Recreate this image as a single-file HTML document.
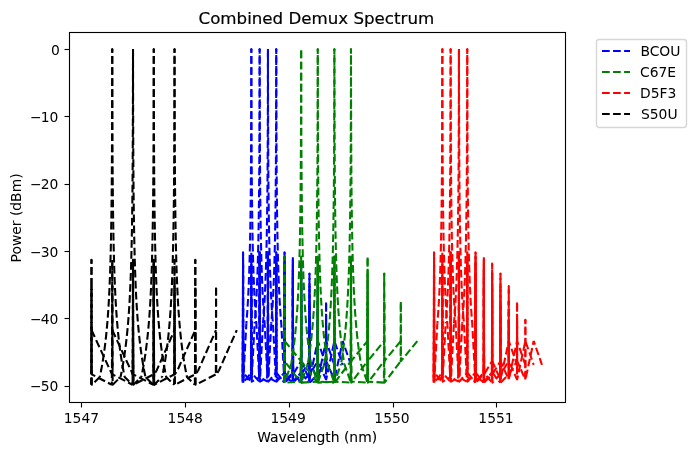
<!DOCTYPE html>
<html lang="en"><head><meta charset="utf-8"><title>Combined Demux Spectrum</title>
<style>html,body{margin:0;padding:0;background:#fff}svg{display:block;will-change:transform}text{font-family:"DejaVu Sans","Liberation Sans",sans-serif;fill:#000}</style></head><body>
<svg width="696" height="455" viewBox="0 0 696 455">
<rect x="0" y="0" width="696" height="455" fill="#ffffff"/>
<defs><clipPath id="ax"><rect x="68.528" y="32.122" width="496.000" height="369.600"/></clipPath></defs>
<g clip-path="url(#ax)" fill="none" stroke-width="2.0833" stroke-dasharray="7.7083 3.3333" stroke-linejoin="round" stroke-linecap="butt">
<path stroke="#0000ff" stroke-dashoffset="0.000" d="M242.62 377.40 L242.73 361.55 L242.83 340.62 L242.93 311.99 L243.04 252.41"/>
<path stroke="#0000ff" stroke-dashoffset="3.532" d="M243.04 252.41 L243.14 311.99 L243.24 340.62 L243.35 361.55 L243.45 377.40 L246.36 323.42"/>
<circle cx="243.04" cy="252.41" r="1.042" fill="#0000ff" stroke="none"/>
<path stroke="#0000ff" stroke-dashoffset="5.299" d="M246.36 323.42 L246.46 322.19 L246.57 320.93 L246.67 319.64 L246.77 318.32 L246.88 316.97 L246.98 315.58 L247.09 314.16 L247.19 312.70 L247.29 311.20 L247.40 309.65 L247.50 308.06 L247.60 306.43 L247.71 304.74 L247.81 302.99 L247.92 301.19 L248.02 299.32 L248.12 297.40 L248.23 295.40 L248.33 293.32 L248.43 291.16 L248.54 288.91 L248.64 286.57 L248.75 284.13 L248.85 281.58 L248.95 278.93 L249.06 276.14 L249.16 273.23 L249.27 270.17 L249.37 266.95 L249.47 263.57 L249.58 259.99 L249.68 256.21 L249.78 252.20 L249.89 247.93 L249.99 243.36 L250.10 238.45 L250.20 233.15 L250.30 227.38 L250.41 221.05 L250.51 214.03 L250.61 206.13 L250.72 197.12 L250.82 186.58 L250.93 173.91 L251.03 158.06 L251.13 137.13 L251.24 108.50 L251.34 48.92"/>
<path stroke="#0000ff" stroke-dashoffset="3.854" d="M251.34 48.92 L251.44 108.50 L251.55 137.13 L251.65 158.06 L251.76 173.91 L251.86 186.58 L251.96 197.12 L252.07 206.13 L252.17 214.03 L252.28 221.05 L252.38 227.38 L252.48 233.15 L252.59 238.45 L252.69 243.36 L252.79 247.93 L252.90 252.20 L253.00 256.21 L253.11 259.99 L253.21 263.57 L253.31 266.95 L253.42 270.17 L253.52 273.23 L253.62 276.14 L253.73 278.93 L253.83 281.58 L253.94 284.13 L254.04 286.57 L254.14 288.91 L254.25 291.16 L254.35 293.32 L254.46 295.40 L254.56 297.40 L254.66 299.32 L254.77 301.19 L254.87 302.99 L254.97 304.74 L255.08 306.43 L255.18 308.06 L255.29 309.65 L255.39 311.20 L255.49 312.70 L255.60 314.16 L255.70 315.58 L255.80 316.97 L255.91 318.32 L256.01 319.64 L256.12 320.93 L256.22 322.19 L256.32 323.42 L259.23 377.40"/>
<circle cx="251.34" cy="48.92" r="1.042" fill="#0000ff" stroke="none"/>
<path stroke="#0000ff" stroke-dashoffset="1.265" d="M259.23 377.40 L259.33 361.55 L259.44 340.62 L259.54 311.99 L259.65 252.41"/>
<path stroke="#0000ff" stroke-dashoffset="4.797" d="M259.65 252.41 L259.75 311.99 L259.85 340.62 L259.96 361.55 L260.06 377.40 L267.53 381.62"/>
<circle cx="259.65" cy="252.41" r="1.042" fill="#0000ff" stroke="none"/>
<path stroke="#0000ff" stroke-dashoffset="5.868" d="M267.53 381.62 L267.64 365.76 L267.74 344.84 L267.85 316.20 L267.95 256.63"/>
<path stroke="#0000ff" stroke-dashoffset="9.399" d="M267.95 256.63 L268.05 316.20 L268.16 344.84 L268.26 365.76 L268.36 381.62 L275.94 372.79"/>
<path stroke="#0000ff" stroke-dashoffset="2.482" d="M275.94 372.79 L276.05 351.87 L276.15 323.23 L276.25 263.66"/>
<path stroke="#0000ff" stroke-dashoffset="1.200" d="M276.25 263.66 L276.36 323.23 L276.46 351.87 L276.56 372.79 L284.25 382.63"/>
<circle cx="276.25" cy="263.66" r="1.042" fill="#0000ff" stroke="none"/>
<path stroke="#0000ff" stroke-dashoffset="1.357" d="M284.25 382.63 L284.35 361.71 L284.45 333.07 L284.56 273.49"/>
<path stroke="#0000ff" stroke-dashoffset="0.075" d="M284.56 273.49 L284.66 333.07 L284.76 361.71 L284.87 382.63 L292.65 374.35"/>
<circle cx="284.56" cy="273.49" r="1.042" fill="#0000ff" stroke="none"/>
<path stroke="#0000ff" stroke-dashoffset="10.153" d="M292.65 374.35 L292.76 345.72 L292.86 286.14"/>
<path stroke="#0000ff" stroke-dashoffset="10.032" d="M292.86 286.14 L292.97 345.72 L293.07 374.35 L301.06 361.18"/>
<path stroke="#0000ff" stroke-dashoffset="3.239" d="M301.06 361.18 L301.17 301.60"/>
<path stroke="#0000ff" stroke-dashoffset="7.606" d="M301.17 301.60 L301.27 361.18 L309.37 379.45"/>
<circle cx="301.17" cy="301.60" r="1.042" fill="#0000ff" stroke="none"/>
<path stroke="#0000ff" stroke-dashoffset="9.874" d="M309.37 379.45 L309.47 319.87"/>
<path stroke="#0000ff" stroke-dashoffset="3.199" d="M309.47 319.87 L309.57 379.45 L317.77 340.95"/>
<circle cx="309.47" cy="319.87" r="1.042" fill="#0000ff" stroke="none"/>
<path stroke="#0000ff" stroke-dashoffset="2.757" d="M317.77 340.95 L326.08 364.85"/>
<path stroke="#0000ff" stroke-dashoffset="5.968" d="M326.08 364.85"/>
<path stroke="#0000ff" stroke-dashoffset="0.000" d="M242.62 381.62 L242.73 365.76 L242.83 344.84 L242.93 316.20 L243.04 256.63"/>
<path stroke="#0000ff" stroke-dashoffset="3.532" d="M243.04 256.63 L243.14 316.20 L243.24 344.84 L243.35 365.76 L243.45 381.62 L250.93 377.40"/>
<circle cx="243.04" cy="256.63" r="1.042" fill="#0000ff" stroke="none"/>
<path stroke="#0000ff" stroke-dashoffset="4.603" d="M250.93 377.40 L251.03 361.55 L251.13 340.62 L251.24 311.99 L251.34 252.41"/>
<path stroke="#0000ff" stroke-dashoffset="8.134" d="M251.34 252.41 L251.44 311.99 L251.55 340.62 L251.65 361.55 L251.76 377.40 L254.66 323.42"/>
<path stroke="#0000ff" stroke-dashoffset="6.199" d="M254.66 323.42 L254.77 322.19 L254.87 320.93 L254.97 319.64 L255.08 318.32 L255.18 316.97 L255.29 315.58 L255.39 314.16 L255.49 312.70 L255.60 311.20 L255.70 309.65 L255.80 308.06 L255.91 306.43 L256.01 304.74 L256.12 302.99 L256.22 301.19 L256.32 299.32 L256.43 297.40 L256.53 295.40 L256.63 293.32 L256.74 291.16 L256.84 288.91 L256.95 286.57 L257.05 284.13 L257.15 281.58 L257.26 278.93 L257.36 276.14 L257.47 273.23 L257.57 270.17 L257.67 266.95 L257.78 263.57 L257.88 259.99 L257.98 256.21 L258.09 252.20 L258.19 247.93 L258.30 243.36 L258.40 238.45 L258.50 233.15 L258.61 227.38 L258.71 221.05 L258.81 214.03 L258.92 206.13 L259.02 197.12 L259.13 186.58 L259.23 173.91 L259.33 158.06 L259.44 137.13 L259.54 108.50 L259.65 48.92"/>
<path stroke="#0000ff" stroke-dashoffset="4.754" d="M259.65 48.92 L259.75 108.50 L259.85 137.13 L259.96 158.06 L260.06 173.91 L260.16 186.58 L260.27 197.12 L260.37 206.13 L260.48 214.03 L260.58 221.05 L260.68 227.38 L260.79 233.15 L260.89 238.45 L260.99 243.36 L261.10 247.93 L261.20 252.20 L261.31 256.21 L261.41 259.99 L261.51 263.57 L261.62 266.95 L261.72 270.17 L261.82 273.23 L261.93 276.14 L262.03 278.93 L262.14 281.58 L262.24 284.13 L262.34 286.57 L262.45 288.91 L262.55 291.16 L262.66 293.32 L262.76 295.40 L262.86 297.40 L262.97 299.32 L263.07 301.19 L263.17 302.99 L263.28 304.74 L263.38 306.43 L263.49 308.06 L263.59 309.65 L263.69 311.20 L263.80 312.70 L263.90 314.16 L264.00 315.58 L264.11 316.97 L264.21 318.32 L264.32 319.64 L264.42 320.93 L264.52 322.19 L264.63 323.42 L267.53 377.40"/>
<circle cx="259.65" cy="48.92" r="1.042" fill="#0000ff" stroke="none"/>
<path stroke="#0000ff" stroke-dashoffset="2.165" d="M267.53 377.40 L267.64 361.55 L267.74 340.62 L267.85 311.99 L267.95 252.41"/>
<path stroke="#0000ff" stroke-dashoffset="5.697" d="M267.95 252.41 L268.05 311.99 L268.16 340.62 L268.26 361.55 L268.36 377.40 L275.84 381.62"/>
<circle cx="267.95" cy="252.41" r="1.042" fill="#0000ff" stroke="none"/>
<path stroke="#0000ff" stroke-dashoffset="6.768" d="M275.84 381.62 L275.94 365.76 L276.05 344.84 L276.15 316.20 L276.25 256.63"/>
<path stroke="#0000ff" stroke-dashoffset="10.299" d="M276.25 256.63 L276.36 316.20 L276.46 344.84 L276.56 365.76 L276.67 381.62 L284.25 372.79"/>
<path stroke="#0000ff" stroke-dashoffset="3.382" d="M284.25 372.79 L284.35 351.87 L284.45 323.23 L284.56 263.66"/>
<path stroke="#0000ff" stroke-dashoffset="2.100" d="M284.56 263.66 L284.66 323.23 L284.76 351.87 L284.87 372.79 L292.55 382.63"/>
<circle cx="284.56" cy="263.66" r="1.042" fill="#0000ff" stroke="none"/>
<path stroke="#0000ff" stroke-dashoffset="2.257" d="M292.55 382.63 L292.65 361.71 L292.76 333.07 L292.86 273.49"/>
<path stroke="#0000ff" stroke-dashoffset="0.975" d="M292.86 273.49 L292.97 333.07 L293.07 361.71 L293.17 382.63 L300.96 374.35"/>
<circle cx="292.86" cy="273.49" r="1.042" fill="#0000ff" stroke="none"/>
<path stroke="#0000ff" stroke-dashoffset="0.011" d="M300.96 374.35 L301.06 345.72 L301.17 286.14"/>
<path stroke="#0000ff" stroke-dashoffset="10.932" d="M301.17 286.14 L301.27 345.72 L301.37 374.35 L309.37 361.18"/>
<path stroke="#0000ff" stroke-dashoffset="4.139" d="M309.37 361.18 L309.47 301.60"/>
<path stroke="#0000ff" stroke-dashoffset="8.506" d="M309.47 301.60 L309.57 361.18 L317.67 379.45"/>
<path stroke="#0000ff" stroke-dashoffset="10.774" d="M317.67 379.45 L317.77 319.87"/>
<path stroke="#0000ff" stroke-dashoffset="4.099" d="M317.77 319.87 L317.88 379.45 L326.08 340.95"/>
<circle cx="317.77" cy="319.87" r="1.042" fill="#0000ff" stroke="none"/>
<path stroke="#0000ff" stroke-dashoffset="3.657" d="M326.08 340.95 L334.38 364.85"/>
<path stroke="#0000ff" stroke-dashoffset="6.868" d="M334.38 364.85"/>
<path stroke="#0000ff" stroke-dashoffset="0.000" d="M242.73 372.79 L242.83 351.87 L242.93 323.23 L243.04 263.66"/>
<path stroke="#0000ff" stroke-dashoffset="9.759" d="M243.04 263.66 L243.14 323.23 L243.24 351.87 L243.35 372.79 L250.93 381.62"/>
<path stroke="#0000ff" stroke-dashoffset="9.070" d="M250.93 381.62 L251.03 365.76 L251.13 344.84 L251.24 316.20 L251.34 256.63"/>
<path stroke="#0000ff" stroke-dashoffset="1.560" d="M251.34 256.63 L251.44 316.20 L251.55 344.84 L251.65 365.76 L251.76 381.62 L259.23 377.40"/>
<circle cx="251.34" cy="256.63" r="1.042" fill="#0000ff" stroke="none"/>
<path stroke="#0000ff" stroke-dashoffset="2.631" d="M259.23 377.40 L259.33 361.55 L259.44 340.62 L259.54 311.99 L259.65 252.41"/>
<path stroke="#0000ff" stroke-dashoffset="6.162" d="M259.65 252.41 L259.75 311.99 L259.85 340.62 L259.96 361.55 L260.06 377.40 L262.97 323.42"/>
<circle cx="259.65" cy="252.41" r="1.042" fill="#0000ff" stroke="none"/>
<path stroke="#0000ff" stroke-dashoffset="1.444" d="M262.97 323.42 L263.07 322.19 L263.17 320.93 L263.28 319.64 L263.38 318.32 L263.49 316.97 L263.59 315.58 L263.69 314.16 L263.80 312.70 L263.90 311.20 L264.00 309.65 L264.11 308.06 L264.21 306.43 L264.32 304.74 L264.42 302.99 L264.52 301.19 L264.63 299.32 L264.73 297.40 L264.84 295.40 L264.94 293.32 L265.04 291.16 L265.15 288.91 L265.25 286.57 L265.35 284.13 L265.46 281.58 L265.56 278.93 L265.67 276.14 L265.77 273.23 L265.87 270.17 L265.98 266.95 L266.08 263.57 L266.18 259.99 L266.29 256.21 L266.39 252.20 L266.50 247.93 L266.60 243.36 L266.70 238.45 L266.81 233.15 L266.91 227.38 L267.01 221.05 L267.12 214.03 L267.22 206.13 L267.33 197.12 L267.43 186.58 L267.53 173.91 L267.64 158.06 L267.74 137.13 L267.85 108.50 L267.95 48.92"/>
<path stroke="#0000ff" stroke-dashoffset="0.000" d="M267.95 48.92 L268.05 108.50 L268.16 137.13 L268.26 158.06 L268.36 173.91 L268.47 186.58 L268.57 197.12 L268.68 206.13 L268.78 214.03 L268.88 221.05 L268.99 227.38 L269.09 233.15 L269.19 238.45 L269.30 243.36 L269.40 247.93 L269.51 252.20 L269.61 256.21 L269.71 259.99 L269.82 263.57 L269.92 266.95 L270.03 270.17 L270.13 273.23 L270.23 276.14 L270.34 278.93 L270.44 281.58 L270.54 284.13 L270.65 286.57 L270.75 288.91 L270.86 291.16 L270.96 293.32 L271.06 295.40 L271.17 297.40 L271.27 299.32 L271.37 301.19 L271.48 302.99 L271.58 304.74 L271.69 306.43 L271.79 308.06 L271.89 309.65 L272.00 311.20 L272.10 312.70 L272.21 314.16 L272.31 315.58 L272.41 316.97 L272.52 318.32 L272.62 319.64 L272.72 320.93 L272.83 322.19 L272.93 323.42 L275.84 377.40"/>
<path stroke="#0000ff" stroke-dashoffset="8.452" d="M275.84 377.40 L275.94 361.55 L276.05 340.62 L276.15 311.99 L276.25 252.41"/>
<path stroke="#0000ff" stroke-dashoffset="0.943" d="M276.25 252.41 L276.36 311.99 L276.46 340.62 L276.56 361.55 L276.67 377.40 L284.14 381.62"/>
<circle cx="276.25" cy="252.41" r="1.042" fill="#0000ff" stroke="none"/>
<path stroke="#0000ff" stroke-dashoffset="2.013" d="M284.14 381.62 L284.25 365.76 L284.35 344.84 L284.45 316.20 L284.56 256.63"/>
<path stroke="#0000ff" stroke-dashoffset="5.545" d="M284.56 256.63 L284.66 316.20 L284.76 344.84 L284.87 365.76 L284.97 381.62 L292.55 372.79"/>
<circle cx="284.56" cy="256.63" r="1.042" fill="#0000ff" stroke="none"/>
<path stroke="#0000ff" stroke-dashoffset="9.669" d="M292.55 372.79 L292.65 351.87 L292.76 323.23 L292.86 263.66"/>
<path stroke="#0000ff" stroke-dashoffset="8.387" d="M292.86 263.66 L292.97 323.23 L293.07 351.87 L293.17 372.79 L300.85 382.63"/>
<path stroke="#0000ff" stroke-dashoffset="8.545" d="M300.85 382.63 L300.96 361.71 L301.06 333.07 L301.17 273.49"/>
<path stroke="#0000ff" stroke-dashoffset="7.263" d="M301.17 273.49 L301.27 333.07 L301.37 361.71 L301.48 382.63 L309.26 374.35"/>
<circle cx="301.17" cy="273.49" r="1.042" fill="#0000ff" stroke="none"/>
<path stroke="#0000ff" stroke-dashoffset="6.299" d="M309.26 374.35 L309.37 345.72 L309.47 286.14"/>
<path stroke="#0000ff" stroke-dashoffset="6.178" d="M309.47 286.14 L309.57 345.72 L309.68 374.35 L317.67 361.18"/>
<circle cx="309.47" cy="286.14" r="1.042" fill="#0000ff" stroke="none"/>
<path stroke="#0000ff" stroke-dashoffset="10.426" d="M317.67 361.18 L317.77 301.60"/>
<path stroke="#0000ff" stroke-dashoffset="3.752" d="M317.77 301.60 L317.88 361.18 L325.97 379.45"/>
<circle cx="317.77" cy="301.60" r="1.042" fill="#0000ff" stroke="none"/>
<path stroke="#0000ff" stroke-dashoffset="6.020" d="M325.97 379.45 L326.08 319.87"/>
<path stroke="#0000ff" stroke-dashoffset="10.387" d="M326.08 319.87 L326.18 379.45 L334.38 340.95"/>
<path stroke="#0000ff" stroke-dashoffset="9.945" d="M334.38 340.95 L342.69 364.85"/>
<path stroke="#0000ff" stroke-dashoffset="2.114" d="M342.69 364.85"/>
<path stroke="#0000ff" stroke-dashoffset="0.000" d="M242.73 382.63 L242.83 361.71 L242.93 333.07 L243.04 273.49"/>
<path stroke="#0000ff" stroke-dashoffset="9.759" d="M243.04 273.49 L243.14 333.07 L243.24 361.71 L243.35 382.63 L251.03 372.79"/>
<path stroke="#0000ff" stroke-dashoffset="9.917" d="M251.03 372.79 L251.13 351.87 L251.24 323.23 L251.34 263.66"/>
<path stroke="#0000ff" stroke-dashoffset="8.635" d="M251.34 263.66 L251.44 323.23 L251.55 351.87 L251.65 372.79 L259.23 381.62"/>
<path stroke="#0000ff" stroke-dashoffset="7.945" d="M259.23 381.62 L259.33 365.76 L259.44 344.84 L259.54 316.20 L259.65 256.63"/>
<path stroke="#0000ff" stroke-dashoffset="0.435" d="M259.65 256.63 L259.75 316.20 L259.85 344.84 L259.96 365.76 L260.06 381.62 L267.53 377.40"/>
<circle cx="259.65" cy="256.63" r="1.042" fill="#0000ff" stroke="none"/>
<path stroke="#0000ff" stroke-dashoffset="1.506" d="M267.53 377.40 L267.64 361.55 L267.74 340.62 L267.85 311.99 L267.95 252.41"/>
<path stroke="#0000ff" stroke-dashoffset="5.038" d="M267.95 252.41 L268.05 311.99 L268.16 340.62 L268.26 361.55 L268.36 377.40 L271.27 323.42"/>
<circle cx="267.95" cy="252.41" r="1.042" fill="#0000ff" stroke="none"/>
<path stroke="#0000ff" stroke-dashoffset="6.399" d="M271.27 323.42 L271.37 322.19 L271.48 320.93 L271.58 319.64 L271.69 318.32 L271.79 316.97 L271.89 315.58 L272.00 314.16 L272.10 312.70 L272.21 311.20 L272.31 309.65 L272.41 308.06 L272.52 306.43 L272.62 304.74 L272.72 302.99 L272.83 301.19 L272.93 299.32 L273.04 297.40 L273.14 295.40 L273.24 293.32 L273.35 291.16 L273.45 288.91 L273.55 286.57 L273.66 284.13 L273.76 281.58 L273.87 278.93 L273.97 276.14 L274.07 273.23 L274.18 270.17 L274.28 266.95 L274.38 263.57 L274.49 259.99 L274.59 256.21 L274.70 252.20 L274.80 247.93 L274.90 243.36 L275.01 238.45 L275.11 233.15 L275.22 227.38 L275.32 221.05 L275.42 214.03 L275.53 206.13 L275.63 197.12 L275.73 186.58 L275.84 173.91 L275.94 158.06 L276.05 137.13 L276.15 108.50 L276.25 48.92"/>
<path stroke="#0000ff" stroke-dashoffset="4.954" d="M276.25 48.92 L276.36 108.50 L276.46 137.13 L276.56 158.06 L276.67 173.91 L276.77 186.58 L276.88 197.12 L276.98 206.13 L277.08 214.03 L277.19 221.05 L277.29 227.38 L277.40 233.15 L277.50 238.45 L277.60 243.36 L277.71 247.93 L277.81 252.20 L277.91 256.21 L278.02 259.99 L278.12 263.57 L278.23 266.95 L278.33 270.17 L278.43 273.23 L278.54 276.14 L278.64 278.93 L278.74 281.58 L278.85 284.13 L278.95 286.57 L279.06 288.91 L279.16 291.16 L279.26 293.32 L279.37 295.40 L279.47 297.40 L279.57 299.32 L279.68 301.19 L279.78 302.99 L279.89 304.74 L279.99 306.43 L280.09 308.06 L280.20 309.65 L280.30 311.20 L280.41 312.70 L280.51 314.16 L280.61 315.58 L280.72 316.97 L280.82 318.32 L280.92 319.64 L281.03 320.93 L281.13 322.19 L281.24 323.42 L284.14 377.40"/>
<circle cx="276.25" cy="48.92" r="1.042" fill="#0000ff" stroke="none"/>
<path stroke="#0000ff" stroke-dashoffset="2.365" d="M284.14 377.40 L284.25 361.55 L284.35 340.62 L284.45 311.99 L284.56 252.41"/>
<path stroke="#0000ff" stroke-dashoffset="5.897" d="M284.56 252.41 L284.66 311.99 L284.76 340.62 L284.87 361.55 L284.97 377.40 L292.45 381.62"/>
<circle cx="284.56" cy="252.41" r="1.042" fill="#0000ff" stroke="none"/>
<path stroke="#0000ff" stroke-dashoffset="6.968" d="M292.45 381.62 L292.55 365.76 L292.65 344.84 L292.76 316.20 L292.86 256.63"/>
<path stroke="#0000ff" stroke-dashoffset="10.499" d="M292.86 256.63 L292.97 316.20 L293.07 344.84 L293.17 365.76 L293.28 381.62 L300.85 372.79"/>
<path stroke="#0000ff" stroke-dashoffset="3.582" d="M300.85 372.79 L300.96 351.87 L301.06 323.23 L301.17 263.66"/>
<path stroke="#0000ff" stroke-dashoffset="2.300" d="M301.17 263.66 L301.27 323.23 L301.37 351.87 L301.48 372.79 L309.16 382.63"/>
<circle cx="301.17" cy="263.66" r="1.042" fill="#0000ff" stroke="none"/>
<path stroke="#0000ff" stroke-dashoffset="2.457" d="M309.16 382.63 L309.26 361.71 L309.37 333.07 L309.47 273.49"/>
<path stroke="#0000ff" stroke-dashoffset="1.175" d="M309.47 273.49 L309.57 333.07 L309.68 361.71 L309.78 382.63 L317.57 374.35"/>
<circle cx="309.47" cy="273.49" r="1.042" fill="#0000ff" stroke="none"/>
<path stroke="#0000ff" stroke-dashoffset="0.211" d="M317.57 374.35 L317.67 345.72 L317.77 286.14"/>
<path stroke="#0000ff" stroke-dashoffset="0.090" d="M317.77 286.14 L317.88 345.72 L317.98 374.35 L325.97 361.18"/>
<circle cx="317.77" cy="286.14" r="1.042" fill="#0000ff" stroke="none"/>
<path stroke="#0000ff" stroke-dashoffset="4.339" d="M325.97 361.18 L326.08 301.60"/>
<path stroke="#0000ff" stroke-dashoffset="8.706" d="M326.08 301.60 L326.18 361.18 L334.28 379.45"/>
<path stroke="#0000ff" stroke-dashoffset="10.974" d="M334.28 379.45 L334.38 319.87"/>
<path stroke="#0000ff" stroke-dashoffset="4.299" d="M334.38 319.87 L334.49 379.45 L342.69 340.95"/>
<circle cx="334.38" cy="319.87" r="1.042" fill="#0000ff" stroke="none"/>
<path stroke="#0000ff" stroke-dashoffset="3.857" d="M342.69 340.95 L350.99 364.85"/>
<path stroke="#0000ff" stroke-dashoffset="7.068" d="M350.99 364.85"/>
<path stroke="#008000" stroke-dashoffset="0.000" d="M284.14 381.62 L284.25 365.76 L284.35 344.84 L284.45 316.20 L284.56 256.63"/>
<path stroke="#008000" stroke-dashoffset="3.532" d="M284.56 256.63 L284.66 316.20 L284.76 344.84 L284.87 365.76 L284.97 381.62 L291.20 363.99"/>
<circle cx="284.56" cy="256.63" r="1.042" fill="#008000" stroke="none"/>
<path stroke="#008000" stroke-dashoffset="3.051" d="M291.20 363.99 L291.30 363.38 L291.41 362.77 L291.51 362.14 L291.62 361.51 L291.72 360.88 L291.82 360.23 L291.93 359.58 L292.03 358.92 L292.13 358.25 L292.24 357.58 L292.34 356.90 L292.45 356.20 L292.55 355.51 L292.65 354.80 L292.76 354.08 L292.86 353.36 L292.97 352.62 L293.07 351.88 L293.17 351.12 L293.28 350.36 L293.38 349.59 L293.48 348.80 L293.59 348.01 L293.69 347.20 L293.80 346.38 L293.90 345.55 L294.00 344.71 L294.11 343.86 L294.21 342.99 L294.31 342.11 L294.42 341.22 L294.52 340.31 L294.63 339.40 L294.73 338.47 L294.83 337.52 L294.94 336.55 L295.04 335.57 L295.14 334.57 L295.25 333.55 L295.35 332.51 L295.46 331.46 L295.56 330.38 L295.66 329.29 L295.77 328.17 L295.87 327.04 L295.98 325.87 L296.08 324.69 L296.18 323.48 L296.29 322.24 L296.39 320.98 L296.49 319.69 L296.60 318.36 L296.70 317.01 L296.81 315.62 L296.91 314.19 L297.01 312.73 L297.12 311.22 L297.22 309.68 L297.32 308.08 L297.43 306.44 L297.53 304.75 L297.64 303.01 L297.74 301.20 L297.84 299.33 L297.95 297.40 L298.05 295.40 L298.16 293.32 L298.26 291.16 L298.36 288.91 L298.47 286.57 L298.57 284.13 L298.67 281.58 L298.78 278.93 L298.88 276.14 L298.99 273.23 L299.09 270.17 L299.19 266.95 L299.30 263.57 L299.40 259.99 L299.50 256.21 L299.61 252.20 L299.71 247.93 L299.82 243.36 L299.92 238.45 L300.02 233.15 L300.13 227.38 L300.23 221.05 L300.33 214.03 L300.44 206.13 L300.54 197.12 L300.65 186.58 L300.75 173.91 L300.85 158.06 L300.96 137.13 L301.06 108.50 L301.17 48.92"/>
<path stroke="#008000" stroke-dashoffset="9.375" d="M301.17 48.92 L301.27 108.50 L301.37 137.13 L301.48 158.06 L301.58 173.91 L301.68 186.58 L301.79 197.12 L301.89 206.13 L302.00 214.03 L302.10 221.05 L302.20 227.38 L302.31 233.15 L302.41 238.45 L302.51 243.36 L302.62 247.93 L302.72 252.20 L302.83 256.21 L302.93 259.99 L303.03 263.57 L303.14 266.95 L303.24 270.17 L303.35 273.23 L303.45 276.14 L303.55 278.93 L303.66 281.58 L303.76 284.13 L303.86 286.57 L303.97 288.91 L304.07 291.16 L304.18 293.32 L304.28 295.40 L304.38 297.40 L304.49 299.33 L304.59 301.20 L304.69 303.01 L304.80 304.75 L304.90 306.44 L305.01 308.08 L305.11 309.68 L305.21 311.22 L305.32 312.73 L305.42 314.19 L305.52 315.62 L305.63 317.01 L305.73 318.36 L305.84 319.69 L305.94 320.98 L306.04 322.24 L306.15 323.48 L306.25 324.69 L306.36 325.87 L306.46 327.04 L306.56 328.17 L306.67 329.29 L306.77 330.38 L306.87 331.46 L306.98 332.51 L307.08 333.55 L307.19 334.57 L307.29 335.57 L307.39 336.55 L307.50 337.52 L307.60 338.47 L307.70 339.40 L307.81 340.31 L307.91 341.22 L308.02 342.11 L308.12 342.99 L308.22 343.86 L308.33 344.71 L308.43 345.55 L308.54 346.38 L308.64 347.20 L308.74 348.01 L308.85 348.80 L308.95 349.59 L309.05 350.36 L309.16 351.12 L309.26 351.88 L309.37 352.62 L309.47 353.36 L309.57 354.08 L309.68 354.80 L309.78 355.51 L309.88 356.20 L309.99 356.90 L310.09 357.58 L310.20 358.25 L310.30 358.92 L310.40 359.58 L310.51 360.23 L310.61 360.88 L310.71 361.51 L310.82 362.14 L310.92 362.77 L311.03 363.38 L311.13 363.99 L317.36 381.62"/>
<path stroke="#008000" stroke-dashoffset="1.267" d="M317.36 381.62 L317.46 365.76 L317.57 344.84 L317.67 316.20 L317.77 256.63"/>
<path stroke="#008000" stroke-dashoffset="4.799" d="M317.77 256.63 L317.88 316.20 L317.98 344.84 L318.08 365.76 L318.19 381.62 L334.07 382.63"/>
<circle cx="317.77" cy="256.63" r="1.042" fill="#008000" stroke="none"/>
<path stroke="#008000" stroke-dashoffset="2.161" d="M334.07 382.63 L334.17 361.71 L334.28 333.07 L334.38 273.49"/>
<path stroke="#008000" stroke-dashoffset="0.879" d="M334.38 273.49 L334.49 333.07 L334.59 361.71 L334.69 382.63 L350.89 361.18"/>
<circle cx="334.38" cy="273.49" r="1.042" fill="#008000" stroke="none"/>
<path stroke="#008000" stroke-dashoffset="4.389" d="M350.89 361.18 L350.99 301.60"/>
<path stroke="#008000" stroke-dashoffset="8.756" d="M350.99 301.60 L351.09 361.18 L367.60 340.95"/>
<path stroke="#008000" stroke-dashoffset="6.101" d="M367.60 340.95"/>
<path stroke="#008000" stroke-dashoffset="0.000" d="M284.25 382.63 L284.35 361.71 L284.45 333.07 L284.56 273.49"/>
<path stroke="#008000" stroke-dashoffset="9.759" d="M284.56 273.49 L284.66 333.07 L284.76 361.71 L284.87 382.63 L300.75 381.62"/>
<path stroke="#008000" stroke-dashoffset="2.308" d="M300.75 381.62 L300.85 365.76 L300.96 344.84 L301.06 316.20 L301.17 256.63"/>
<path stroke="#008000" stroke-dashoffset="5.839" d="M301.17 256.63 L301.27 316.20 L301.37 344.84 L301.48 365.76 L301.58 381.62 L307.81 363.99"/>
<circle cx="301.17" cy="256.63" r="1.042" fill="#008000" stroke="none"/>
<path stroke="#008000" stroke-dashoffset="9.742" d="M307.81 363.99 L307.91 363.38 L308.02 362.77 L308.12 362.14 L308.22 361.51 L308.33 360.88 L308.43 360.23 L308.54 359.58 L308.64 358.92 L308.74 358.25 L308.85 357.58 L308.95 356.90 L309.05 356.20 L309.16 355.51 L309.26 354.80 L309.37 354.08 L309.47 353.36 L309.57 352.62 L309.68 351.88 L309.78 351.12 L309.88 350.36 L309.99 349.59 L310.09 348.80 L310.20 348.01 L310.30 347.20 L310.40 346.38 L310.51 345.55 L310.61 344.71 L310.71 343.86 L310.82 342.99 L310.92 342.11 L311.03 341.22 L311.13 340.31 L311.23 339.40 L311.34 338.47 L311.44 337.52 L311.55 336.55 L311.65 335.57 L311.75 334.57 L311.86 333.55 L311.96 332.51 L312.06 331.46 L312.17 330.38 L312.27 329.29 L312.38 328.17 L312.48 327.04 L312.58 325.87 L312.69 324.69 L312.79 323.48 L312.89 322.24 L313.00 320.98 L313.10 319.69 L313.21 318.36 L313.31 317.01 L313.41 315.62 L313.52 314.19 L313.62 312.73 L313.73 311.22 L313.83 309.68 L313.93 308.08 L314.04 306.44 L314.14 304.75 L314.24 303.01 L314.35 301.20 L314.45 299.33 L314.56 297.40 L314.66 295.40 L314.76 293.32 L314.87 291.16 L314.97 288.91 L315.07 286.57 L315.18 284.13 L315.28 281.58 L315.39 278.93 L315.49 276.14 L315.59 273.23 L315.70 270.17 L315.80 266.95 L315.90 263.57 L316.01 259.99 L316.11 256.21 L316.22 252.20 L316.32 247.93 L316.42 243.36 L316.53 238.45 L316.63 233.15 L316.74 227.38 L316.84 221.05 L316.94 214.03 L317.05 206.13 L317.15 197.12 L317.25 186.58 L317.36 173.91 L317.46 158.06 L317.57 137.13 L317.67 108.50 L317.77 48.92"/>
<path stroke="#008000" stroke-dashoffset="5.024" d="M317.77 48.92 L317.88 108.50 L317.98 137.13 L318.08 158.06 L318.19 173.91 L318.29 186.58 L318.40 197.12 L318.50 206.13 L318.60 214.03 L318.71 221.05 L318.81 227.38 L318.92 233.15 L319.02 238.45 L319.12 243.36 L319.23 247.93 L319.33 252.20 L319.43 256.21 L319.54 259.99 L319.64 263.57 L319.75 266.95 L319.85 270.17 L319.95 273.23 L320.06 276.14 L320.16 278.93 L320.26 281.58 L320.37 284.13 L320.47 286.57 L320.58 288.91 L320.68 291.16 L320.78 293.32 L320.89 295.40 L320.99 297.40 L321.10 299.33 L321.20 301.20 L321.30 303.01 L321.41 304.75 L321.51 306.44 L321.61 308.08 L321.72 309.68 L321.82 311.22 L321.93 312.73 L322.03 314.19 L322.13 315.62 L322.24 317.01 L322.34 318.36 L322.44 319.69 L322.55 320.98 L322.65 322.24 L322.76 323.48 L322.86 324.69 L322.96 325.87 L323.07 327.04 L323.17 328.17 L323.27 329.29 L323.38 330.38 L323.48 331.46 L323.59 332.51 L323.69 333.55 L323.79 334.57 L323.90 335.57 L324.00 336.55 L324.11 337.52 L324.21 338.47 L324.31 339.40 L324.42 340.31 L324.52 341.22 L324.62 342.11 L324.73 342.99 L324.83 343.86 L324.94 344.71 L325.04 345.55 L325.14 346.38 L325.25 347.20 L325.35 348.01 L325.45 348.80 L325.56 349.59 L325.66 350.36 L325.77 351.12 L325.87 351.88 L325.97 352.62 L326.08 353.36 L326.18 354.08 L326.29 354.80 L326.39 355.51 L326.49 356.20 L326.60 356.90 L326.70 357.58 L326.80 358.25 L326.91 358.92 L327.01 359.58 L327.12 360.23 L327.22 360.88 L327.32 361.51 L327.43 362.14 L327.53 362.77 L327.63 363.38 L327.74 363.99 L333.97 381.62"/>
<circle cx="317.77" cy="48.92" r="1.042" fill="#008000" stroke="none"/>
<path stroke="#008000" stroke-dashoffset="7.958" d="M333.97 381.62 L334.07 365.76 L334.17 344.84 L334.28 316.20 L334.38 256.63"/>
<path stroke="#008000" stroke-dashoffset="0.448" d="M334.38 256.63 L334.49 316.20 L334.59 344.84 L334.69 365.76 L334.80 381.62 L350.68 382.63"/>
<circle cx="334.38" cy="256.63" r="1.042" fill="#008000" stroke="none"/>
<path stroke="#008000" stroke-dashoffset="8.852" d="M350.68 382.63 L350.78 361.71 L350.89 333.07 L350.99 273.49"/>
<path stroke="#008000" stroke-dashoffset="7.570" d="M350.99 273.49 L351.09 333.07 L351.20 361.71 L351.30 382.63 L367.49 361.18"/>
<circle cx="350.99" cy="273.49" r="1.042" fill="#008000" stroke="none"/>
<path stroke="#008000" stroke-dashoffset="0.038" d="M367.49 361.18 L367.60 301.60"/>
<path stroke="#008000" stroke-dashoffset="4.405" d="M367.60 301.60 L367.70 361.18 L384.21 340.95"/>
<circle cx="367.60" cy="301.60" r="1.042" fill="#008000" stroke="none"/>
<path stroke="#008000" stroke-dashoffset="1.751" d="M384.21 340.95"/>
<path stroke="#008000" stroke-dashoffset="0.000" d="M284.45 361.18 L284.56 301.60"/>
<path stroke="#008000" stroke-dashoffset="4.367" d="M284.56 301.60 L284.66 361.18 L300.85 382.63"/>
<circle cx="284.56" cy="301.60" r="1.042" fill="#008000" stroke="none"/>
<path stroke="#008000" stroke-dashoffset="2.485" d="M300.85 382.63 L300.96 361.71 L301.06 333.07 L301.17 273.49"/>
<path stroke="#008000" stroke-dashoffset="1.203" d="M301.17 273.49 L301.27 333.07 L301.37 361.71 L301.48 382.63 L317.36 381.62"/>
<circle cx="301.17" cy="273.49" r="1.042" fill="#008000" stroke="none"/>
<path stroke="#008000" stroke-dashoffset="4.793" d="M317.36 381.62 L317.46 365.76 L317.57 344.84 L317.67 316.20 L317.77 256.63"/>
<path stroke="#008000" stroke-dashoffset="8.324" d="M317.77 256.63 L317.88 316.20 L317.98 344.84 L318.08 365.76 L318.19 381.62 L324.42 363.99"/>
<path stroke="#008000" stroke-dashoffset="10.172" d="M324.42 363.99 L324.52 363.38 L324.62 362.77 L324.73 362.14 L324.83 361.51 L324.94 360.88 L325.04 360.23 L325.14 359.58 L325.25 358.92 L325.35 358.25 L325.45 357.58 L325.56 356.90 L325.66 356.20 L325.77 355.51 L325.87 354.80 L325.97 354.08 L326.08 353.36 L326.18 352.62 L326.29 351.88 L326.39 351.12 L326.49 350.36 L326.60 349.59 L326.70 348.80 L326.80 348.01 L326.91 347.20 L327.01 346.38 L327.12 345.55 L327.22 344.71 L327.32 343.86 L327.43 342.99 L327.53 342.11 L327.63 341.22 L327.74 340.31 L327.84 339.40 L327.95 338.47 L328.05 337.52 L328.15 336.55 L328.26 335.57 L328.36 334.57 L328.46 333.55 L328.57 332.51 L328.67 331.46 L328.78 330.38 L328.88 329.29 L328.98 328.17 L329.09 327.04 L329.19 325.87 L329.30 324.69 L329.40 323.48 L329.50 322.24 L329.61 320.98 L329.71 319.69 L329.81 318.36 L329.92 317.01 L330.02 315.62 L330.13 314.19 L330.23 312.73 L330.33 311.22 L330.44 309.68 L330.54 308.08 L330.64 306.44 L330.75 304.75 L330.85 303.01 L330.96 301.20 L331.06 299.33 L331.16 297.40 L331.27 295.40 L331.37 293.32 L331.48 291.16 L331.58 288.91 L331.68 286.57 L331.79 284.13 L331.89 281.58 L331.99 278.93 L332.10 276.14 L332.20 273.23 L332.31 270.17 L332.41 266.95 L332.51 263.57 L332.62 259.99 L332.72 256.21 L332.82 252.20 L332.93 247.93 L333.03 243.36 L333.14 238.45 L333.24 233.15 L333.34 227.38 L333.45 221.05 L333.55 214.03 L333.65 206.13 L333.76 197.12 L333.86 186.58 L333.97 173.91 L334.07 158.06 L334.17 137.13 L334.28 108.50 L334.38 48.92"/>
<path stroke="#008000" stroke-dashoffset="5.454" d="M334.38 48.92 L334.49 108.50 L334.59 137.13 L334.69 158.06 L334.80 173.91 L334.90 186.58 L335.00 197.12 L335.11 206.13 L335.21 214.03 L335.32 221.05 L335.42 227.38 L335.52 233.15 L335.63 238.45 L335.73 243.36 L335.83 247.93 L335.94 252.20 L336.04 256.21 L336.15 259.99 L336.25 263.57 L336.35 266.95 L336.46 270.17 L336.56 273.23 L336.67 276.14 L336.77 278.93 L336.87 281.58 L336.98 284.13 L337.08 286.57 L337.18 288.91 L337.29 291.16 L337.39 293.32 L337.50 295.40 L337.60 297.40 L337.70 299.33 L337.81 301.20 L337.91 303.01 L338.01 304.75 L338.12 306.44 L338.22 308.08 L338.33 309.68 L338.43 311.22 L338.53 312.73 L338.64 314.19 L338.74 315.62 L338.84 317.01 L338.95 318.36 L339.05 319.69 L339.16 320.98 L339.26 322.24 L339.36 323.48 L339.47 324.69 L339.57 325.87 L339.68 327.04 L339.78 328.17 L339.88 329.29 L339.99 330.38 L340.09 331.46 L340.19 332.51 L340.30 333.55 L340.40 334.57 L340.51 335.57 L340.61 336.55 L340.71 337.52 L340.82 338.47 L340.92 339.40 L341.02 340.31 L341.13 341.22 L341.23 342.11 L341.34 342.99 L341.44 343.86 L341.54 344.71 L341.65 345.55 L341.75 346.38 L341.86 347.20 L341.96 348.01 L342.06 348.80 L342.17 349.59 L342.27 350.36 L342.37 351.12 L342.48 351.88 L342.58 352.62 L342.69 353.36 L342.79 354.08 L342.89 354.80 L343.00 355.51 L343.10 356.20 L343.20 356.90 L343.31 357.58 L343.41 358.25 L343.52 358.92 L343.62 359.58 L343.72 360.23 L343.83 360.88 L343.93 361.51 L344.03 362.14 L344.14 362.77 L344.24 363.38 L344.35 363.99 L350.57 381.62"/>
<circle cx="334.38" cy="48.92" r="1.042" fill="#008000" stroke="none"/>
<path stroke="#008000" stroke-dashoffset="8.388" d="M350.57 381.62 L350.68 365.76 L350.78 344.84 L350.89 316.20 L350.99 256.63"/>
<path stroke="#008000" stroke-dashoffset="0.878" d="M350.99 256.63 L351.09 316.20 L351.20 344.84 L351.30 365.76 L351.40 381.62 L367.29 382.63"/>
<circle cx="350.99" cy="256.63" r="1.042" fill="#008000" stroke="none"/>
<path stroke="#008000" stroke-dashoffset="9.282" d="M367.29 382.63 L367.39 361.71 L367.49 333.07 L367.60 273.49"/>
<path stroke="#008000" stroke-dashoffset="8.000" d="M367.60 273.49 L367.70 333.07 L367.81 361.71 L367.91 382.63 L384.10 361.18"/>
<path stroke="#008000" stroke-dashoffset="6.208" d="M384.10 361.18 L384.21 301.60"/>
<path stroke="#008000" stroke-dashoffset="10.575" d="M384.21 301.60 L384.31 361.18 L400.81 340.95"/>
<path stroke="#008000" stroke-dashoffset="7.920" d="M400.81 340.95"/>
<path stroke="#008000" stroke-dashoffset="0.000" d="M284.56 340.95 L301.06 361.18"/>
<path stroke="#008000" stroke-dashoffset="4.020" d="M301.06 361.18 L301.17 301.60"/>
<path stroke="#008000" stroke-dashoffset="8.387" d="M301.17 301.60 L301.27 361.18 L317.46 382.63"/>
<path stroke="#008000" stroke-dashoffset="6.505" d="M317.46 382.63 L317.57 361.71 L317.67 333.07 L317.77 273.49"/>
<path stroke="#008000" stroke-dashoffset="5.223" d="M317.77 273.49 L317.88 333.07 L317.98 361.71 L318.08 382.63 L333.97 381.62"/>
<circle cx="317.77" cy="273.49" r="1.042" fill="#008000" stroke="none"/>
<path stroke="#008000" stroke-dashoffset="8.812" d="M333.97 381.62 L334.07 365.76 L334.17 344.84 L334.28 316.20 L334.38 256.63"/>
<path stroke="#008000" stroke-dashoffset="1.302" d="M334.38 256.63 L334.49 316.20 L334.59 344.84 L334.69 365.76 L334.80 381.62 L341.02 363.99"/>
<circle cx="334.38" cy="256.63" r="1.042" fill="#008000" stroke="none"/>
<path stroke="#008000" stroke-dashoffset="9.472" d="M341.02 363.99 L341.13 363.38 L341.23 362.77 L341.34 362.14 L341.44 361.51 L341.54 360.88 L341.65 360.23 L341.75 359.58 L341.86 358.92 L341.96 358.25 L342.06 357.58 L342.17 356.90 L342.27 356.20 L342.37 355.51 L342.48 354.80 L342.58 354.08 L342.69 353.36 L342.79 352.62 L342.89 351.88 L343.00 351.12 L343.10 350.36 L343.20 349.59 L343.31 348.80 L343.41 348.01 L343.52 347.20 L343.62 346.38 L343.72 345.55 L343.83 344.71 L343.93 343.86 L344.03 342.99 L344.14 342.11 L344.24 341.22 L344.35 340.31 L344.45 339.40 L344.55 338.47 L344.66 337.52 L344.76 336.55 L344.87 335.57 L344.97 334.57 L345.07 333.55 L345.18 332.51 L345.28 331.46 L345.38 330.38 L345.49 329.29 L345.59 328.17 L345.70 327.04 L345.80 325.87 L345.90 324.69 L346.01 323.48 L346.11 322.24 L346.21 320.98 L346.32 319.69 L346.42 318.36 L346.53 317.01 L346.63 315.62 L346.73 314.19 L346.84 312.73 L346.94 311.22 L347.05 309.68 L347.15 308.08 L347.25 306.44 L347.36 304.75 L347.46 303.01 L347.56 301.20 L347.67 299.33 L347.77 297.40 L347.88 295.40 L347.98 293.32 L348.08 291.16 L348.19 288.91 L348.29 286.57 L348.39 284.13 L348.50 281.58 L348.60 278.93 L348.71 276.14 L348.81 273.23 L348.91 270.17 L349.02 266.95 L349.12 263.57 L349.22 259.99 L349.33 256.21 L349.43 252.20 L349.54 247.93 L349.64 243.36 L349.74 238.45 L349.85 233.15 L349.95 227.38 L350.06 221.05 L350.16 214.03 L350.26 206.13 L350.37 197.12 L350.47 186.58 L350.57 173.91 L350.68 158.06 L350.78 137.13 L350.89 108.50 L350.99 48.92"/>
<path stroke="#008000" stroke-dashoffset="4.754" d="M350.99 48.92 L351.09 108.50 L351.20 137.13 L351.30 158.06 L351.40 173.91 L351.51 186.58 L351.61 197.12 L351.72 206.13 L351.82 214.03 L351.92 221.05 L352.03 227.38 L352.13 233.15 L352.24 238.45 L352.34 243.36 L352.44 247.93 L352.55 252.20 L352.65 256.21 L352.75 259.99 L352.86 263.57 L352.96 266.95 L353.07 270.17 L353.17 273.23 L353.27 276.14 L353.38 278.93 L353.48 281.58 L353.58 284.13 L353.69 286.57 L353.79 288.91 L353.90 291.16 L354.00 293.32 L354.10 295.40 L354.21 297.40 L354.31 299.33 L354.41 301.20 L354.52 303.01 L354.62 304.75 L354.73 306.44 L354.83 308.08 L354.93 309.68 L355.04 311.22 L355.14 312.73 L355.25 314.19 L355.35 315.62 L355.45 317.01 L355.56 318.36 L355.66 319.69 L355.76 320.98 L355.87 322.24 L355.97 323.48 L356.08 324.69 L356.18 325.87 L356.28 327.04 L356.39 328.17 L356.49 329.29 L356.59 330.38 L356.70 331.46 L356.80 332.51 L356.91 333.55 L357.01 334.57 L357.11 335.57 L357.22 336.55 L357.32 337.52 L357.43 338.47 L357.53 339.40 L357.63 340.31 L357.74 341.22 L357.84 342.11 L357.94 342.99 L358.05 343.86 L358.15 344.71 L358.26 345.55 L358.36 346.38 L358.46 347.20 L358.57 348.01 L358.67 348.80 L358.77 349.59 L358.88 350.36 L358.98 351.12 L359.09 351.88 L359.19 352.62 L359.29 353.36 L359.40 354.08 L359.50 354.80 L359.60 355.51 L359.71 356.20 L359.81 356.90 L359.92 357.58 L360.02 358.25 L360.12 358.92 L360.23 359.58 L360.33 360.23 L360.44 360.88 L360.54 361.51 L360.64 362.14 L360.75 362.77 L360.85 363.38 L360.95 363.99 L367.18 381.62"/>
<circle cx="350.99" cy="48.92" r="1.042" fill="#008000" stroke="none"/>
<path stroke="#008000" stroke-dashoffset="6.543" d="M367.18 381.62 L367.29 365.76 L367.39 344.84 L367.49 316.20 L367.60 256.63"/>
<path stroke="#008000" stroke-dashoffset="10.075" d="M367.60 256.63 L367.70 316.20 L367.81 344.84 L367.91 365.76 L368.01 381.62 L383.89 382.63"/>
<path stroke="#008000" stroke-dashoffset="6.736" d="M383.89 382.63 L384.00 361.71 L384.10 333.07 L384.21 273.49"/>
<path stroke="#008000" stroke-dashoffset="5.454" d="M384.21 273.49 L384.31 333.07 L384.41 361.71 L384.52 382.63 L400.71 361.18"/>
<circle cx="384.21" cy="273.49" r="1.042" fill="#008000" stroke="none"/>
<path stroke="#008000" stroke-dashoffset="6.178" d="M400.71 361.18 L400.81 301.60"/>
<path stroke="#008000" stroke-dashoffset="10.545" d="M400.81 301.60 L400.92 361.18 L417.42 340.95"/>
<path stroke="#008000" stroke-dashoffset="7.890" d="M417.42 340.95"/>
<path stroke="#ff0000" stroke-dashoffset="0.000" d="M433.61 377.40 L433.72 361.55 L433.82 340.62 L433.93 311.99 L434.03 252.41"/>
<path stroke="#ff0000" stroke-dashoffset="3.532" d="M434.03 252.41 L434.13 311.99 L434.24 340.62 L434.34 361.55 L434.45 377.40 L437.35 323.42"/>
<circle cx="434.03" cy="252.41" r="1.042" fill="#ff0000" stroke="none"/>
<path stroke="#ff0000" stroke-dashoffset="5.299" d="M437.35 323.42 L437.46 322.19 L437.56 320.93 L437.66 319.64 L437.77 318.32 L437.87 316.97 L437.97 315.58 L438.08 314.16 L438.18 312.70 L438.29 311.20 L438.39 309.65 L438.49 308.06 L438.60 306.43 L438.70 304.74 L438.80 302.99 L438.91 301.19 L439.01 299.32 L439.12 297.40 L439.22 295.40 L439.32 293.32 L439.43 291.16 L439.53 288.91 L439.64 286.57 L439.74 284.13 L439.84 281.58 L439.95 278.93 L440.05 276.14 L440.15 273.23 L440.26 270.17 L440.36 266.95 L440.47 263.57 L440.57 259.99 L440.67 256.21 L440.78 252.20 L440.88 247.93 L440.98 243.36 L441.09 238.45 L441.19 233.15 L441.30 227.38 L441.40 221.05 L441.50 214.03 L441.61 206.13 L441.71 197.12 L441.81 186.58 L441.92 173.91 L442.02 158.06 L442.13 137.13 L442.23 108.50 L442.33 48.92"/>
<path stroke="#ff0000" stroke-dashoffset="3.854" d="M442.33 48.92 L442.44 108.50 L442.54 137.13 L442.65 158.06 L442.75 173.91 L442.85 186.58 L442.96 197.12 L443.06 206.13 L443.16 214.03 L443.27 221.05 L443.37 227.38 L443.48 233.15 L443.58 238.45 L443.68 243.36 L443.79 247.93 L443.89 252.20 L443.99 256.21 L444.10 259.99 L444.20 263.57 L444.31 266.95 L444.41 270.17 L444.51 273.23 L444.62 276.14 L444.72 278.93 L444.83 281.58 L444.93 284.13 L445.03 286.57 L445.14 288.91 L445.24 291.16 L445.34 293.32 L445.45 295.40 L445.55 297.40 L445.66 299.32 L445.76 301.19 L445.86 302.99 L445.97 304.74 L446.07 306.43 L446.17 308.06 L446.28 309.65 L446.38 311.20 L446.49 312.70 L446.59 314.16 L446.69 315.58 L446.80 316.97 L446.90 318.32 L447.00 319.64 L447.11 320.93 L447.21 322.19 L447.32 323.42 L450.22 377.40"/>
<circle cx="442.33" cy="48.92" r="1.042" fill="#ff0000" stroke="none"/>
<path stroke="#ff0000" stroke-dashoffset="1.265" d="M450.22 377.40 L450.33 361.55 L450.43 340.62 L450.53 311.99 L450.64 252.41"/>
<path stroke="#ff0000" stroke-dashoffset="4.797" d="M450.64 252.41 L450.74 311.99 L450.85 340.62 L450.95 361.55 L451.05 377.40 L458.53 381.62"/>
<circle cx="450.64" cy="252.41" r="1.042" fill="#ff0000" stroke="none"/>
<path stroke="#ff0000" stroke-dashoffset="5.868" d="M458.53 381.62 L458.63 365.76 L458.73 344.84 L458.84 316.20 L458.94 256.63"/>
<path stroke="#ff0000" stroke-dashoffset="9.399" d="M458.94 256.63 L459.05 316.20 L459.15 344.84 L459.25 365.76 L459.36 381.62 L466.93 372.79"/>
<path stroke="#ff0000" stroke-dashoffset="2.482" d="M466.93 372.79 L467.04 351.87 L467.14 323.23 L467.25 263.66"/>
<path stroke="#ff0000" stroke-dashoffset="1.200" d="M467.25 263.66 L467.35 323.23 L467.45 351.87 L467.56 372.79 L475.24 382.63"/>
<circle cx="467.25" cy="263.66" r="1.042" fill="#ff0000" stroke="none"/>
<path stroke="#ff0000" stroke-dashoffset="1.357" d="M475.24 382.63 L475.34 361.71 L475.45 333.07 L475.55 273.49"/>
<path stroke="#ff0000" stroke-dashoffset="0.075" d="M475.55 273.49 L475.65 333.07 L475.76 361.71 L475.86 382.63 L483.65 374.35"/>
<circle cx="475.55" cy="273.49" r="1.042" fill="#ff0000" stroke="none"/>
<path stroke="#ff0000" stroke-dashoffset="10.153" d="M483.65 374.35 L483.75 345.72 L483.85 286.14"/>
<path stroke="#ff0000" stroke-dashoffset="10.032" d="M483.85 286.14 L483.96 345.72 L484.06 374.35 L492.05 361.18"/>
<path stroke="#ff0000" stroke-dashoffset="3.239" d="M492.05 361.18 L492.16 301.60"/>
<path stroke="#ff0000" stroke-dashoffset="7.606" d="M492.16 301.60 L492.26 361.18 L500.36 379.45"/>
<circle cx="492.16" cy="301.60" r="1.042" fill="#ff0000" stroke="none"/>
<path stroke="#ff0000" stroke-dashoffset="9.874" d="M500.36 379.45 L500.46 319.87"/>
<path stroke="#ff0000" stroke-dashoffset="3.199" d="M500.46 319.87 L500.57 379.45 L508.77 340.95"/>
<circle cx="500.46" cy="319.87" r="1.042" fill="#ff0000" stroke="none"/>
<path stroke="#ff0000" stroke-dashoffset="2.757" d="M508.77 340.95 L517.07 364.85"/>
<path stroke="#ff0000" stroke-dashoffset="5.968" d="M517.07 364.85"/>
<path stroke="#ff0000" stroke-dashoffset="0.000" d="M433.61 381.62 L433.72 365.76 L433.82 344.84 L433.93 316.20 L434.03 256.63"/>
<path stroke="#ff0000" stroke-dashoffset="3.532" d="M434.03 256.63 L434.13 316.20 L434.24 344.84 L434.34 365.76 L434.45 381.62 L441.92 377.40"/>
<circle cx="434.03" cy="256.63" r="1.042" fill="#ff0000" stroke="none"/>
<path stroke="#ff0000" stroke-dashoffset="4.603" d="M441.92 377.40 L442.02 361.55 L442.13 340.62 L442.23 311.99 L442.33 252.41"/>
<path stroke="#ff0000" stroke-dashoffset="8.134" d="M442.33 252.41 L442.44 311.99 L442.54 340.62 L442.65 361.55 L442.75 377.40 L445.66 323.42"/>
<path stroke="#ff0000" stroke-dashoffset="6.199" d="M445.66 323.42 L445.76 322.19 L445.86 320.93 L445.97 319.64 L446.07 318.32 L446.17 316.97 L446.28 315.58 L446.38 314.16 L446.49 312.70 L446.59 311.20 L446.69 309.65 L446.80 308.06 L446.90 306.43 L447.00 304.74 L447.11 302.99 L447.21 301.19 L447.32 299.32 L447.42 297.40 L447.52 295.40 L447.63 293.32 L447.73 291.16 L447.84 288.91 L447.94 286.57 L448.04 284.13 L448.15 281.58 L448.25 278.93 L448.35 276.14 L448.46 273.23 L448.56 270.17 L448.67 266.95 L448.77 263.57 L448.87 259.99 L448.98 256.21 L449.08 252.20 L449.18 247.93 L449.29 243.36 L449.39 238.45 L449.50 233.15 L449.60 227.38 L449.70 221.05 L449.81 214.03 L449.91 206.13 L450.02 197.12 L450.12 186.58 L450.22 173.91 L450.33 158.06 L450.43 137.13 L450.53 108.50 L450.64 48.92"/>
<path stroke="#ff0000" stroke-dashoffset="4.754" d="M450.64 48.92 L450.74 108.50 L450.85 137.13 L450.95 158.06 L451.05 173.91 L451.16 186.58 L451.26 197.12 L451.36 206.13 L451.47 214.03 L451.57 221.05 L451.68 227.38 L451.78 233.15 L451.88 238.45 L451.99 243.36 L452.09 247.93 L452.19 252.20 L452.30 256.21 L452.40 259.99 L452.51 263.57 L452.61 266.95 L452.71 270.17 L452.82 273.23 L452.92 276.14 L453.03 278.93 L453.13 281.58 L453.23 284.13 L453.34 286.57 L453.44 288.91 L453.54 291.16 L453.65 293.32 L453.75 295.40 L453.86 297.40 L453.96 299.32 L454.06 301.19 L454.17 302.99 L454.27 304.74 L454.37 306.43 L454.48 308.06 L454.58 309.65 L454.69 311.20 L454.79 312.70 L454.89 314.16 L455.00 315.58 L455.10 316.97 L455.21 318.32 L455.31 319.64 L455.41 320.93 L455.52 322.19 L455.62 323.42 L458.53 377.40"/>
<circle cx="450.64" cy="48.92" r="1.042" fill="#ff0000" stroke="none"/>
<path stroke="#ff0000" stroke-dashoffset="2.165" d="M458.53 377.40 L458.63 361.55 L458.73 340.62 L458.84 311.99 L458.94 252.41"/>
<path stroke="#ff0000" stroke-dashoffset="5.697" d="M458.94 252.41 L459.05 311.99 L459.15 340.62 L459.25 361.55 L459.36 377.40 L466.83 381.62"/>
<circle cx="458.94" cy="252.41" r="1.042" fill="#ff0000" stroke="none"/>
<path stroke="#ff0000" stroke-dashoffset="6.768" d="M466.83 381.62 L466.93 365.76 L467.04 344.84 L467.14 316.20 L467.25 256.63"/>
<path stroke="#ff0000" stroke-dashoffset="10.299" d="M467.25 256.63 L467.35 316.20 L467.45 344.84 L467.56 365.76 L467.66 381.62 L475.24 372.79"/>
<path stroke="#ff0000" stroke-dashoffset="3.382" d="M475.24 372.79 L475.34 351.87 L475.45 323.23 L475.55 263.66"/>
<path stroke="#ff0000" stroke-dashoffset="2.100" d="M475.55 263.66 L475.65 323.23 L475.76 351.87 L475.86 372.79 L483.54 382.63"/>
<circle cx="475.55" cy="263.66" r="1.042" fill="#ff0000" stroke="none"/>
<path stroke="#ff0000" stroke-dashoffset="2.257" d="M483.54 382.63 L483.65 361.71 L483.75 333.07 L483.85 273.49"/>
<path stroke="#ff0000" stroke-dashoffset="0.975" d="M483.85 273.49 L483.96 333.07 L484.06 361.71 L484.17 382.63 L491.95 374.35"/>
<circle cx="483.85" cy="273.49" r="1.042" fill="#ff0000" stroke="none"/>
<path stroke="#ff0000" stroke-dashoffset="0.011" d="M491.95 374.35 L492.05 345.72 L492.16 286.14"/>
<path stroke="#ff0000" stroke-dashoffset="10.932" d="M492.16 286.14 L492.26 345.72 L492.37 374.35 L500.36 361.18"/>
<path stroke="#ff0000" stroke-dashoffset="4.139" d="M500.36 361.18 L500.46 301.60"/>
<path stroke="#ff0000" stroke-dashoffset="8.506" d="M500.46 301.60 L500.57 361.18 L508.66 379.45"/>
<path stroke="#ff0000" stroke-dashoffset="10.774" d="M508.66 379.45 L508.77 319.87"/>
<path stroke="#ff0000" stroke-dashoffset="4.099" d="M508.77 319.87 L508.87 379.45 L517.07 340.95"/>
<circle cx="508.77" cy="319.87" r="1.042" fill="#ff0000" stroke="none"/>
<path stroke="#ff0000" stroke-dashoffset="3.657" d="M517.07 340.95 L525.37 364.85"/>
<path stroke="#ff0000" stroke-dashoffset="6.868" d="M525.37 364.85"/>
<path stroke="#ff0000" stroke-dashoffset="0.000" d="M433.72 372.79 L433.82 351.87 L433.93 323.23 L434.03 263.66"/>
<path stroke="#ff0000" stroke-dashoffset="9.759" d="M434.03 263.66 L434.13 323.23 L434.24 351.87 L434.34 372.79 L441.92 381.62"/>
<path stroke="#ff0000" stroke-dashoffset="9.070" d="M441.92 381.62 L442.02 365.76 L442.13 344.84 L442.23 316.20 L442.33 256.63"/>
<path stroke="#ff0000" stroke-dashoffset="1.560" d="M442.33 256.63 L442.44 316.20 L442.54 344.84 L442.65 365.76 L442.75 381.62 L450.22 377.40"/>
<circle cx="442.33" cy="256.63" r="1.042" fill="#ff0000" stroke="none"/>
<path stroke="#ff0000" stroke-dashoffset="2.631" d="M450.22 377.40 L450.33 361.55 L450.43 340.62 L450.53 311.99 L450.64 252.41"/>
<path stroke="#ff0000" stroke-dashoffset="6.162" d="M450.64 252.41 L450.74 311.99 L450.85 340.62 L450.95 361.55 L451.05 377.40 L453.96 323.42"/>
<circle cx="450.64" cy="252.41" r="1.042" fill="#ff0000" stroke="none"/>
<path stroke="#ff0000" stroke-dashoffset="1.444" d="M453.96 323.42 L454.06 322.19 L454.17 320.93 L454.27 319.64 L454.37 318.32 L454.48 316.97 L454.58 315.58 L454.69 314.16 L454.79 312.70 L454.89 311.20 L455.00 309.65 L455.10 308.06 L455.21 306.43 L455.31 304.74 L455.41 302.99 L455.52 301.19 L455.62 299.32 L455.72 297.40 L455.83 295.40 L455.93 293.32 L456.04 291.16 L456.14 288.91 L456.24 286.57 L456.35 284.13 L456.45 281.58 L456.55 278.93 L456.66 276.14 L456.76 273.23 L456.87 270.17 L456.97 266.95 L457.07 263.57 L457.18 259.99 L457.28 256.21 L457.38 252.20 L457.49 247.93 L457.59 243.36 L457.70 238.45 L457.80 233.15 L457.90 227.38 L458.01 221.05 L458.11 214.03 L458.22 206.13 L458.32 197.12 L458.42 186.58 L458.53 173.91 L458.63 158.06 L458.73 137.13 L458.84 108.50 L458.94 48.92"/>
<path stroke="#ff0000" stroke-dashoffset="11.042" d="M458.94 48.92 L459.05 108.50 L459.15 137.13 L459.25 158.06 L459.36 173.91 L459.46 186.58 L459.56 197.12 L459.67 206.13 L459.77 214.03 L459.88 221.05 L459.98 227.38 L460.08 233.15 L460.19 238.45 L460.29 243.36 L460.40 247.93 L460.50 252.20 L460.60 256.21 L460.71 259.99 L460.81 263.57 L460.91 266.95 L461.02 270.17 L461.12 273.23 L461.23 276.14 L461.33 278.93 L461.43 281.58 L461.54 284.13 L461.64 286.57 L461.74 288.91 L461.85 291.16 L461.95 293.32 L462.06 295.40 L462.16 297.40 L462.26 299.32 L462.37 301.19 L462.47 302.99 L462.58 304.74 L462.68 306.43 L462.78 308.06 L462.89 309.65 L462.99 311.20 L463.09 312.70 L463.20 314.16 L463.30 315.58 L463.41 316.97 L463.51 318.32 L463.61 319.64 L463.72 320.93 L463.82 322.19 L463.92 323.42 L466.83 377.40"/>
<path stroke="#ff0000" stroke-dashoffset="8.452" d="M466.83 377.40 L466.93 361.55 L467.04 340.62 L467.14 311.99 L467.25 252.41"/>
<path stroke="#ff0000" stroke-dashoffset="0.943" d="M467.25 252.41 L467.35 311.99 L467.45 340.62 L467.56 361.55 L467.66 377.40 L475.13 381.62"/>
<circle cx="467.25" cy="252.41" r="1.042" fill="#ff0000" stroke="none"/>
<path stroke="#ff0000" stroke-dashoffset="2.013" d="M475.13 381.62 L475.24 365.76 L475.34 344.84 L475.45 316.20 L475.55 256.63"/>
<path stroke="#ff0000" stroke-dashoffset="5.545" d="M475.55 256.63 L475.65 316.20 L475.76 344.84 L475.86 365.76 L475.97 381.62 L483.54 372.79"/>
<circle cx="475.55" cy="256.63" r="1.042" fill="#ff0000" stroke="none"/>
<path stroke="#ff0000" stroke-dashoffset="9.669" d="M483.54 372.79 L483.65 351.87 L483.75 323.23 L483.85 263.66"/>
<path stroke="#ff0000" stroke-dashoffset="8.387" d="M483.85 263.66 L483.96 323.23 L484.06 351.87 L484.17 372.79 L491.85 382.63"/>
<path stroke="#ff0000" stroke-dashoffset="8.545" d="M491.85 382.63 L491.95 361.71 L492.05 333.07 L492.16 273.49"/>
<path stroke="#ff0000" stroke-dashoffset="7.263" d="M492.16 273.49 L492.26 333.07 L492.37 361.71 L492.47 382.63 L500.25 374.35"/>
<circle cx="492.16" cy="273.49" r="1.042" fill="#ff0000" stroke="none"/>
<path stroke="#ff0000" stroke-dashoffset="6.299" d="M500.25 374.35 L500.36 345.72 L500.46 286.14"/>
<path stroke="#ff0000" stroke-dashoffset="6.178" d="M500.46 286.14 L500.57 345.72 L500.67 374.35 L508.66 361.18"/>
<circle cx="500.46" cy="286.14" r="1.042" fill="#ff0000" stroke="none"/>
<path stroke="#ff0000" stroke-dashoffset="10.426" d="M508.66 361.18 L508.77 301.60"/>
<path stroke="#ff0000" stroke-dashoffset="3.752" d="M508.77 301.60 L508.87 361.18 L516.97 379.45"/>
<circle cx="508.77" cy="301.60" r="1.042" fill="#ff0000" stroke="none"/>
<path stroke="#ff0000" stroke-dashoffset="6.020" d="M516.97 379.45 L517.07 319.87"/>
<path stroke="#ff0000" stroke-dashoffset="10.387" d="M517.07 319.87 L517.17 379.45 L525.37 340.95"/>
<path stroke="#ff0000" stroke-dashoffset="9.945" d="M525.37 340.95 L533.68 364.85"/>
<path stroke="#ff0000" stroke-dashoffset="2.114" d="M533.68 364.85"/>
<path stroke="#ff0000" stroke-dashoffset="0.000" d="M433.72 382.63 L433.82 361.71 L433.93 333.07 L434.03 273.49"/>
<path stroke="#ff0000" stroke-dashoffset="9.759" d="M434.03 273.49 L434.13 333.07 L434.24 361.71 L434.34 382.63 L442.02 372.79"/>
<path stroke="#ff0000" stroke-dashoffset="9.917" d="M442.02 372.79 L442.13 351.87 L442.23 323.23 L442.33 263.66"/>
<path stroke="#ff0000" stroke-dashoffset="8.635" d="M442.33 263.66 L442.44 323.23 L442.54 351.87 L442.65 372.79 L450.22 381.62"/>
<path stroke="#ff0000" stroke-dashoffset="7.945" d="M450.22 381.62 L450.33 365.76 L450.43 344.84 L450.53 316.20 L450.64 256.63"/>
<path stroke="#ff0000" stroke-dashoffset="0.435" d="M450.64 256.63 L450.74 316.20 L450.85 344.84 L450.95 365.76 L451.05 381.62 L458.53 377.40"/>
<circle cx="450.64" cy="256.63" r="1.042" fill="#ff0000" stroke="none"/>
<path stroke="#ff0000" stroke-dashoffset="1.506" d="M458.53 377.40 L458.63 361.55 L458.73 340.62 L458.84 311.99 L458.94 252.41"/>
<path stroke="#ff0000" stroke-dashoffset="5.038" d="M458.94 252.41 L459.05 311.99 L459.15 340.62 L459.25 361.55 L459.36 377.40 L462.26 323.42"/>
<circle cx="458.94" cy="252.41" r="1.042" fill="#ff0000" stroke="none"/>
<path stroke="#ff0000" stroke-dashoffset="6.399" d="M462.26 323.42 L462.37 322.19 L462.47 320.93 L462.58 319.64 L462.68 318.32 L462.78 316.97 L462.89 315.58 L462.99 314.16 L463.09 312.70 L463.20 311.20 L463.30 309.65 L463.41 308.06 L463.51 306.43 L463.61 304.74 L463.72 302.99 L463.82 301.19 L463.92 299.32 L464.03 297.40 L464.13 295.40 L464.24 293.32 L464.34 291.16 L464.44 288.91 L464.55 286.57 L464.65 284.13 L464.75 281.58 L464.86 278.93 L464.96 276.14 L465.07 273.23 L465.17 270.17 L465.27 266.95 L465.38 263.57 L465.48 259.99 L465.59 256.21 L465.69 252.20 L465.79 247.93 L465.90 243.36 L466.00 238.45 L466.10 233.15 L466.21 227.38 L466.31 221.05 L466.42 214.03 L466.52 206.13 L466.62 197.12 L466.73 186.58 L466.83 173.91 L466.93 158.06 L467.04 137.13 L467.14 108.50 L467.25 48.92"/>
<path stroke="#ff0000" stroke-dashoffset="4.954" d="M467.25 48.92 L467.35 108.50 L467.45 137.13 L467.56 158.06 L467.66 173.91 L467.77 186.58 L467.87 197.12 L467.97 206.13 L468.08 214.03 L468.18 221.05 L468.28 227.38 L468.39 233.15 L468.49 238.45 L468.60 243.36 L468.70 247.93 L468.80 252.20 L468.91 256.21 L469.01 259.99 L469.11 263.57 L469.22 266.95 L469.32 270.17 L469.43 273.23 L469.53 276.14 L469.63 278.93 L469.74 281.58 L469.84 284.13 L469.94 286.57 L470.05 288.91 L470.15 291.16 L470.26 293.32 L470.36 295.40 L470.46 297.40 L470.57 299.32 L470.67 301.19 L470.78 302.99 L470.88 304.74 L470.98 306.43 L471.09 308.06 L471.19 309.65 L471.29 311.20 L471.40 312.70 L471.50 314.16 L471.61 315.58 L471.71 316.97 L471.81 318.32 L471.92 319.64 L472.02 320.93 L472.12 322.19 L472.23 323.42 L475.13 377.40"/>
<circle cx="467.25" cy="48.92" r="1.042" fill="#ff0000" stroke="none"/>
<path stroke="#ff0000" stroke-dashoffset="2.365" d="M475.13 377.40 L475.24 361.55 L475.34 340.62 L475.45 311.99 L475.55 252.41"/>
<path stroke="#ff0000" stroke-dashoffset="5.897" d="M475.55 252.41 L475.65 311.99 L475.76 340.62 L475.86 361.55 L475.97 377.40 L483.44 381.62"/>
<circle cx="475.55" cy="252.41" r="1.042" fill="#ff0000" stroke="none"/>
<path stroke="#ff0000" stroke-dashoffset="6.968" d="M483.44 381.62 L483.54 365.76 L483.65 344.84 L483.75 316.20 L483.85 256.63"/>
<path stroke="#ff0000" stroke-dashoffset="10.499" d="M483.85 256.63 L483.96 316.20 L484.06 344.84 L484.17 365.76 L484.27 381.62 L491.85 372.79"/>
<path stroke="#ff0000" stroke-dashoffset="3.582" d="M491.85 372.79 L491.95 351.87 L492.05 323.23 L492.16 263.66"/>
<path stroke="#ff0000" stroke-dashoffset="2.300" d="M492.16 263.66 L492.26 323.23 L492.37 351.87 L492.47 372.79 L500.15 382.63"/>
<circle cx="492.16" cy="263.66" r="1.042" fill="#ff0000" stroke="none"/>
<path stroke="#ff0000" stroke-dashoffset="2.457" d="M500.15 382.63 L500.25 361.71 L500.36 333.07 L500.46 273.49"/>
<path stroke="#ff0000" stroke-dashoffset="1.175" d="M500.46 273.49 L500.57 333.07 L500.67 361.71 L500.77 382.63 L508.56 374.35"/>
<circle cx="500.46" cy="273.49" r="1.042" fill="#ff0000" stroke="none"/>
<path stroke="#ff0000" stroke-dashoffset="0.211" d="M508.56 374.35 L508.66 345.72 L508.77 286.14"/>
<path stroke="#ff0000" stroke-dashoffset="0.090" d="M508.77 286.14 L508.87 345.72 L508.97 374.35 L516.97 361.18"/>
<circle cx="508.77" cy="286.14" r="1.042" fill="#ff0000" stroke="none"/>
<path stroke="#ff0000" stroke-dashoffset="4.339" d="M516.97 361.18 L517.07 301.60"/>
<path stroke="#ff0000" stroke-dashoffset="8.706" d="M517.07 301.60 L517.17 361.18 L525.27 379.45"/>
<path stroke="#ff0000" stroke-dashoffset="10.974" d="M525.27 379.45 L525.37 319.87"/>
<path stroke="#ff0000" stroke-dashoffset="4.299" d="M525.37 319.87 L525.48 379.45 L533.68 340.95"/>
<circle cx="525.37" cy="319.87" r="1.042" fill="#ff0000" stroke="none"/>
<path stroke="#ff0000" stroke-dashoffset="3.857" d="M533.68 340.95 L541.98 364.85"/>
<path stroke="#ff0000" stroke-dashoffset="7.068" d="M541.98 364.85"/>
<path stroke="#000000" stroke-dashoffset="0.322" d="M91.07 384.78 L91.18 368.92 L91.28 348.00 L91.38 319.37 L91.49 259.79"/>
<path stroke="#000000" stroke-dashoffset="3.854" d="M91.49 259.79 L91.59 319.37 L91.70 348.00 L91.80 368.92 L91.90 384.78 L99.79 377.05"/>
<circle cx="91.49" cy="259.79" r="1.042" fill="#000000" stroke="none"/>
<path stroke="#000000" stroke-dashoffset="6.317" d="M99.79 377.05 L99.90 376.57 L100.00 376.07 L100.10 375.58 L100.21 375.08 L100.31 374.57 L100.42 374.06 L100.52 373.55 L100.62 373.03 L100.73 372.51 L100.83 371.98 L100.93 371.45 L101.04 370.91 L101.14 370.36 L101.25 369.82 L101.35 369.26 L101.45 368.70 L101.56 368.14 L101.66 367.57 L101.76 366.99 L101.87 366.41 L101.97 365.83 L102.08 365.23 L102.18 364.63 L102.28 364.03 L102.39 363.42 L102.49 362.80 L102.60 362.17 L102.70 361.54 L102.80 360.90 L102.91 360.26 L103.01 359.60 L103.11 358.94 L103.22 358.27 L103.32 357.60 L103.43 356.91 L103.53 356.22 L103.63 355.52 L103.74 354.81 L103.84 354.10 L103.94 353.37 L104.05 352.64 L104.15 351.90 L104.26 351.14 L104.36 350.38 L104.46 349.60 L104.57 348.82 L104.67 348.02 L104.77 347.22 L104.88 346.40 L104.98 345.57 L105.09 344.73 L105.19 343.87 L105.29 343.01 L105.40 342.13 L105.50 341.23 L105.61 340.33 L105.71 339.40 L105.81 338.47 L105.92 337.52 L106.02 336.55 L106.12 335.57 L106.23 334.57 L106.33 333.55 L106.44 332.51 L106.54 331.46 L106.64 330.38 L106.75 329.29 L106.85 328.17 L106.95 327.04 L107.06 325.87 L107.16 324.69 L107.27 323.48 L107.37 322.24 L107.47 320.98 L107.58 319.69 L107.68 318.36 L107.79 317.01 L107.89 315.62 L107.99 314.19 L108.10 312.73 L108.20 311.22 L108.30 309.68 L108.41 308.08 L108.51 306.44 L108.62 304.75 L108.72 303.01 L108.82 301.20 L108.93 299.33 L109.03 297.40 L109.13 295.40 L109.24 293.32 L109.34 291.16 L109.45 288.91 L109.55 286.57 L109.65 284.13 L109.76 281.58 L109.86 278.93 L109.96 276.14 L110.07 273.23 L110.17 270.17 L110.28 266.95 L110.38 263.57 L110.48 259.99 L110.59 256.21 L110.69 252.20 L110.80 247.93 L110.90 243.36 L111.00 238.45 L111.11 233.15 L111.21 227.38 L111.31 221.05 L111.42 214.03 L111.52 206.13 L111.63 197.12 L111.73 186.58 L111.83 173.91 L111.94 158.06 L112.04 137.13 L112.14 108.50 L112.25 48.92"/>
<path stroke="#000000" stroke-dashoffset="3.854" d="M112.25 48.92 L112.35 108.50 L112.46 137.13 L112.56 158.06 L112.66 173.91 L112.77 186.58 L112.87 197.12 L112.98 206.13 L113.08 214.03 L113.18 221.05 L113.29 227.38 L113.39 233.15 L113.49 238.45 L113.60 243.36 L113.70 247.93 L113.81 252.20 L113.91 256.21 L114.01 259.99 L114.12 263.57 L114.22 266.95 L114.32 270.17 L114.43 273.23 L114.53 276.14 L114.64 278.93 L114.74 281.58 L114.84 284.13 L114.95 286.57 L115.05 288.91 L115.15 291.16 L115.26 293.32 L115.36 295.40 L115.47 297.40 L115.57 299.33 L115.67 301.20 L115.78 303.01 L115.88 304.75 L115.99 306.44 L116.09 308.08 L116.19 309.68 L116.30 311.22 L116.40 312.73 L116.50 314.19 L116.61 315.62 L116.71 317.01 L116.82 318.36 L116.92 319.69 L117.02 320.98 L117.13 322.24 L117.23 323.48 L117.33 324.69 L117.44 325.87 L117.54 327.04 L117.65 328.17 L117.75 329.29 L117.85 330.38 L117.96 331.46 L118.06 332.51 L118.17 333.55 L118.27 334.57 L118.37 335.57 L118.48 336.55 L118.58 337.52 L118.68 338.47 L118.79 339.40 L118.89 340.33 L119.00 341.23 L119.10 342.13 L119.20 343.01 L119.31 343.87 L119.41 344.73 L119.51 345.57 L119.62 346.40 L119.72 347.22 L119.83 348.02 L119.93 348.82 L120.03 349.60 L120.14 350.38 L120.24 351.14 L120.34 351.90 L120.45 352.64 L120.55 353.37 L120.66 354.10 L120.76 354.81 L120.86 355.52 L120.97 356.22 L121.07 356.91 L121.18 357.60 L121.28 358.27 L121.38 358.94 L121.49 359.60 L121.59 360.26 L121.69 360.90 L121.80 361.54 L121.90 362.17 L122.01 362.80 L122.11 363.42 L122.21 364.03 L122.32 364.63 L122.42 365.23 L122.52 365.83 L122.63 366.41 L122.73 366.99 L122.84 367.57 L122.94 368.14 L123.04 368.70 L123.15 369.26 L123.25 369.82 L123.36 370.36 L123.46 370.91 L123.56 371.45 L123.67 371.98 L123.77 372.51 L123.87 373.03 L123.98 373.55 L124.08 374.06 L124.19 374.57 L124.29 375.08 L124.39 375.58 L124.50 376.07 L124.60 376.57 L124.70 377.05 L132.59 384.78"/>
<circle cx="112.25" cy="48.92" r="1.042" fill="#000000" stroke="none"/>
<path stroke="#000000" stroke-dashoffset="1.393" d="M132.59 384.78 L132.70 368.92 L132.80 348.00 L132.90 319.37 L133.01 259.79"/>
<path stroke="#000000" stroke-dashoffset="4.925" d="M133.01 259.79 L133.11 319.37 L133.22 348.00 L133.32 368.92 L133.42 384.78 L153.56 374.35"/>
<circle cx="133.01" cy="259.79" r="1.042" fill="#000000" stroke="none"/>
<path stroke="#000000" stroke-dashoffset="9.049" d="M153.56 374.35 L153.66 345.72 L153.77 286.14"/>
<path stroke="#000000" stroke-dashoffset="8.928" d="M153.77 286.14 L153.87 345.72 L153.98 374.35 L156.47 370.91"/>
<path stroke="#000000" stroke-dashoffset="2.015" d="M156.47 370.91 L174.53 330.06"/>
<path stroke="#000000" stroke-dashoffset="2.512" d="M174.53 330.06"/>
<path stroke="#000000" stroke-dashoffset="3.975" d="M91.28 374.35 L91.38 345.72 L91.49 286.14"/>
<path stroke="#000000" stroke-dashoffset="3.854" d="M91.49 286.14 L91.59 345.72 L91.70 374.35 L111.83 384.78"/>
<circle cx="91.49" cy="286.14" r="1.042" fill="#000000" stroke="none"/>
<path stroke="#000000" stroke-dashoffset="4.326" d="M111.83 384.78 L111.94 368.92 L112.04 348.00 L112.14 319.37 L112.25 259.79"/>
<path stroke="#000000" stroke-dashoffset="7.857" d="M112.25 259.79 L112.35 319.37 L112.46 348.00 L112.56 368.92 L112.66 384.78 L120.55 377.05"/>
<path stroke="#000000" stroke-dashoffset="2.462" d="M120.55 377.05 L120.66 376.57 L120.76 376.07 L120.86 375.58 L120.97 375.08 L121.07 374.57 L121.18 374.06 L121.28 373.55 L121.38 373.03 L121.49 372.51 L121.59 371.98 L121.69 371.45 L121.80 370.91 L121.90 370.36 L122.01 369.82 L122.11 369.26 L122.21 368.70 L122.32 368.14 L122.42 367.57 L122.52 366.99 L122.63 366.41 L122.73 365.83 L122.84 365.23 L122.94 364.63 L123.04 364.03 L123.15 363.42 L123.25 362.80 L123.36 362.17 L123.46 361.54 L123.56 360.90 L123.67 360.26 L123.77 359.60 L123.87 358.94 L123.98 358.27 L124.08 357.60 L124.19 356.91 L124.29 356.22 L124.39 355.52 L124.50 354.81 L124.60 354.10 L124.70 353.37 L124.81 352.64 L124.91 351.90 L125.02 351.14 L125.12 350.38 L125.22 349.60 L125.33 348.82 L125.43 348.02 L125.53 347.22 L125.64 346.40 L125.74 345.57 L125.85 344.73 L125.95 343.87 L126.05 343.01 L126.16 342.13 L126.26 341.23 L126.37 340.33 L126.47 339.40 L126.57 338.47 L126.68 337.52 L126.78 336.55 L126.88 335.57 L126.99 334.57 L127.09 333.55 L127.20 332.51 L127.30 331.46 L127.40 330.38 L127.51 329.29 L127.61 328.17 L127.71 327.04 L127.82 325.87 L127.92 324.69 L128.03 323.48 L128.13 322.24 L128.23 320.98 L128.34 319.69 L128.44 318.36 L128.55 317.01 L128.65 315.62 L128.75 314.19 L128.86 312.73 L128.96 311.22 L129.06 309.68 L129.17 308.08 L129.27 306.44 L129.38 304.75 L129.48 303.01 L129.58 301.20 L129.69 299.33 L129.79 297.40 L129.89 295.40 L130.00 293.32 L130.10 291.16 L130.21 288.91 L130.31 286.57 L130.41 284.13 L130.52 281.58 L130.62 278.93 L130.73 276.14 L130.83 273.23 L130.93 270.17 L131.04 266.95 L131.14 263.57 L131.24 259.99 L131.35 256.21 L131.45 252.20 L131.56 247.93 L131.66 243.36 L131.76 238.45 L131.87 233.15 L131.97 227.38 L132.07 221.05 L132.18 214.03 L132.28 206.13 L132.39 197.12 L132.49 186.58 L132.59 173.91 L132.70 158.06 L132.80 137.13 L132.90 108.50 L133.01 48.92"/>
<path stroke="#000000" stroke-dashoffset="11.042" d="M133.01 48.92 L133.11 108.50 L133.22 137.13 L133.32 158.06 L133.42 173.91 L133.53 186.58 L133.63 197.12 L133.74 206.13 L133.84 214.03 L133.94 221.05 L134.05 227.38 L134.15 233.15 L134.25 238.45 L134.36 243.36 L134.46 247.93 L134.57 252.20 L134.67 256.21 L134.77 259.99 L134.88 263.57 L134.98 266.95 L135.08 270.17 L135.19 273.23 L135.29 276.14 L135.40 278.93 L135.50 281.58 L135.60 284.13 L135.71 286.57 L135.81 288.91 L135.92 291.16 L136.02 293.32 L136.12 295.40 L136.23 297.40 L136.33 299.33 L136.43 301.20 L136.54 303.01 L136.64 304.75 L136.75 306.44 L136.85 308.08 L136.95 309.68 L137.06 311.22 L137.16 312.73 L137.26 314.19 L137.37 315.62 L137.47 317.01 L137.58 318.36 L137.68 319.69 L137.78 320.98 L137.89 322.24 L137.99 323.48 L138.09 324.69 L138.20 325.87 L138.30 327.04 L138.41 328.17 L138.51 329.29 L138.61 330.38 L138.72 331.46 L138.82 332.51 L138.93 333.55 L139.03 334.57 L139.13 335.57 L139.24 336.55 L139.34 337.52 L139.44 338.47 L139.55 339.40 L139.65 340.33 L139.76 341.23 L139.86 342.13 L139.96 343.01 L140.07 343.87 L140.17 344.73 L140.27 345.57 L140.38 346.40 L140.48 347.22 L140.59 348.02 L140.69 348.82 L140.79 349.60 L140.90 350.38 L141.00 351.14 L141.11 351.90 L141.21 352.64 L141.31 353.37 L141.42 354.10 L141.52 354.81 L141.62 355.52 L141.73 356.22 L141.83 356.91 L141.94 357.60 L142.04 358.27 L142.14 358.94 L142.25 359.60 L142.35 360.26 L142.45 360.90 L142.56 361.54 L142.66 362.17 L142.77 362.80 L142.87 363.42 L142.97 364.03 L143.08 364.63 L143.18 365.23 L143.28 365.83 L143.39 366.41 L143.49 366.99 L143.60 367.57 L143.70 368.14 L143.80 368.70 L143.91 369.26 L144.01 369.82 L144.12 370.36 L144.22 370.91 L144.32 371.45 L144.43 371.98 L144.53 372.51 L144.63 373.03 L144.74 373.55 L144.84 374.06 L144.95 374.57 L145.05 375.08 L145.15 375.58 L145.26 376.07 L145.36 376.57 L145.46 377.05 L153.35 384.78"/>
<path stroke="#000000" stroke-dashoffset="8.581" d="M153.35 384.78 L153.46 368.92 L153.56 348.00 L153.66 319.37 L153.77 259.79"/>
<path stroke="#000000" stroke-dashoffset="1.071" d="M153.77 259.79 L153.87 319.37 L153.98 348.00 L154.08 368.92 L154.18 384.78 L174.32 374.35"/>
<circle cx="153.77" cy="259.79" r="1.042" fill="#000000" stroke="none"/>
<path stroke="#000000" stroke-dashoffset="5.195" d="M174.32 374.35 L174.43 345.72 L174.53 286.14"/>
<path stroke="#000000" stroke-dashoffset="5.074" d="M174.53 286.14 L174.63 345.72 L174.74 374.35 L177.23 370.91"/>
<circle cx="174.53" cy="286.14" r="1.042" fill="#000000" stroke="none"/>
<path stroke="#000000" stroke-dashoffset="9.203" d="M177.23 370.91 L195.29 330.06"/>
<path stroke="#000000" stroke-dashoffset="9.699" d="M195.29 330.06"/>
<path stroke="#000000" stroke-dashoffset="0.000" d="M91.49 330.06 L112.04 374.35"/>
<path stroke="#000000" stroke-dashoffset="4.661" d="M112.04 374.35 L112.14 345.72 L112.25 286.14"/>
<path stroke="#000000" stroke-dashoffset="4.540" d="M112.25 286.14 L112.35 345.72 L112.46 374.35 L132.59 384.78"/>
<circle cx="112.25" cy="286.14" r="1.042" fill="#000000" stroke="none"/>
<path stroke="#000000" stroke-dashoffset="5.012" d="M132.59 384.78 L132.70 368.92 L132.80 348.00 L132.90 319.37 L133.01 259.79"/>
<path stroke="#000000" stroke-dashoffset="8.543" d="M133.01 259.79 L133.11 319.37 L133.22 348.00 L133.32 368.92 L133.42 384.78 L141.31 377.05"/>
<path stroke="#000000" stroke-dashoffset="6.317" d="M141.31 377.05 L141.42 376.57 L141.52 376.07 L141.62 375.58 L141.73 375.08 L141.83 374.57 L141.94 374.06 L142.04 373.55 L142.14 373.03 L142.25 372.51 L142.35 371.98 L142.45 371.45 L142.56 370.91 L142.66 370.36 L142.77 369.82 L142.87 369.26 L142.97 368.70 L143.08 368.14 L143.18 367.57 L143.28 366.99 L143.39 366.41 L143.49 365.83 L143.60 365.23 L143.70 364.63 L143.80 364.03 L143.91 363.42 L144.01 362.80 L144.12 362.17 L144.22 361.54 L144.32 360.90 L144.43 360.26 L144.53 359.60 L144.63 358.94 L144.74 358.27 L144.84 357.60 L144.95 356.91 L145.05 356.22 L145.15 355.52 L145.26 354.81 L145.36 354.10 L145.46 353.37 L145.57 352.64 L145.67 351.90 L145.78 351.14 L145.88 350.38 L145.98 349.60 L146.09 348.82 L146.19 348.02 L146.30 347.22 L146.40 346.40 L146.50 345.57 L146.61 344.73 L146.71 343.87 L146.81 343.01 L146.92 342.13 L147.02 341.23 L147.13 340.33 L147.23 339.40 L147.33 338.47 L147.44 337.52 L147.54 336.55 L147.64 335.57 L147.75 334.57 L147.85 333.55 L147.96 332.51 L148.06 331.46 L148.16 330.38 L148.27 329.29 L148.37 328.17 L148.47 327.04 L148.58 325.87 L148.68 324.69 L148.79 323.48 L148.89 322.24 L148.99 320.98 L149.10 319.69 L149.20 318.36 L149.31 317.01 L149.41 315.62 L149.51 314.19 L149.62 312.73 L149.72 311.22 L149.82 309.68 L149.93 308.08 L150.03 306.44 L150.14 304.75 L150.24 303.01 L150.34 301.20 L150.45 299.33 L150.55 297.40 L150.65 295.40 L150.76 293.32 L150.86 291.16 L150.97 288.91 L151.07 286.57 L151.17 284.13 L151.28 281.58 L151.38 278.93 L151.49 276.14 L151.59 273.23 L151.69 270.17 L151.80 266.95 L151.90 263.57 L152.00 259.99 L152.11 256.21 L152.21 252.20 L152.32 247.93 L152.42 243.36 L152.52 238.45 L152.63 233.15 L152.73 227.38 L152.83 221.05 L152.94 214.03 L153.04 206.13 L153.15 197.12 L153.25 186.58 L153.35 173.91 L153.46 158.06 L153.56 137.13 L153.66 108.50 L153.77 48.92"/>
<path stroke="#000000" stroke-dashoffset="3.854" d="M153.77 48.92 L153.87 108.50 L153.98 137.13 L154.08 158.06 L154.18 173.91 L154.29 186.58 L154.39 197.12 L154.50 206.13 L154.60 214.03 L154.70 221.05 L154.81 227.38 L154.91 233.15 L155.01 238.45 L155.12 243.36 L155.22 247.93 L155.33 252.20 L155.43 256.21 L155.53 259.99 L155.64 263.57 L155.74 266.95 L155.84 270.17 L155.95 273.23 L156.05 276.14 L156.16 278.93 L156.26 281.58 L156.36 284.13 L156.47 286.57 L156.57 288.91 L156.68 291.16 L156.78 293.32 L156.88 295.40 L156.99 297.40 L157.09 299.33 L157.19 301.20 L157.30 303.01 L157.40 304.75 L157.51 306.44 L157.61 308.08 L157.71 309.68 L157.82 311.22 L157.92 312.73 L158.02 314.19 L158.13 315.62 L158.23 317.01 L158.34 318.36 L158.44 319.69 L158.54 320.98 L158.65 322.24 L158.75 323.48 L158.85 324.69 L158.96 325.87 L159.06 327.04 L159.17 328.17 L159.27 329.29 L159.37 330.38 L159.48 331.46 L159.58 332.51 L159.69 333.55 L159.79 334.57 L159.89 335.57 L160.00 336.55 L160.10 337.52 L160.20 338.47 L160.31 339.40 L160.41 340.33 L160.52 341.23 L160.62 342.13 L160.72 343.01 L160.83 343.87 L160.93 344.73 L161.03 345.57 L161.14 346.40 L161.24 347.22 L161.35 348.02 L161.45 348.82 L161.55 349.60 L161.66 350.38 L161.76 351.14 L161.87 351.90 L161.97 352.64 L162.07 353.37 L162.18 354.10 L162.28 354.81 L162.38 355.52 L162.49 356.22 L162.59 356.91 L162.70 357.60 L162.80 358.27 L162.90 358.94 L163.01 359.60 L163.11 360.26 L163.21 360.90 L163.32 361.54 L163.42 362.17 L163.53 362.80 L163.63 363.42 L163.73 364.03 L163.84 364.63 L163.94 365.23 L164.04 365.83 L164.15 366.41 L164.25 366.99 L164.36 367.57 L164.46 368.14 L164.56 368.70 L164.67 369.26 L164.77 369.82 L164.88 370.36 L164.98 370.91 L165.08 371.45 L165.19 371.98 L165.29 372.51 L165.39 373.03 L165.50 373.55 L165.60 374.06 L165.71 374.57 L165.81 375.08 L165.91 375.58 L166.02 376.07 L166.12 376.57 L166.22 377.05 L174.11 384.78"/>
<circle cx="153.77" cy="48.92" r="1.042" fill="#000000" stroke="none"/>
<path stroke="#000000" stroke-dashoffset="1.393" d="M174.11 384.78 L174.22 368.92 L174.32 348.00 L174.43 319.37 L174.53 259.79"/>
<path stroke="#000000" stroke-dashoffset="4.925" d="M174.53 259.79 L174.63 319.37 L174.74 348.00 L174.84 368.92 L174.94 384.78 L195.08 374.35"/>
<circle cx="174.53" cy="259.79" r="1.042" fill="#000000" stroke="none"/>
<path stroke="#000000" stroke-dashoffset="9.496" d="M195.08 374.35 L195.19 345.72 L195.29 286.14"/>
<path stroke="#000000" stroke-dashoffset="9.375" d="M195.29 286.14 L195.39 345.72 L195.50 374.35 L197.99 370.91"/>
<path stroke="#000000" stroke-dashoffset="2.463" d="M197.99 370.91 L216.05 330.06"/>
<path stroke="#000000" stroke-dashoffset="2.959" d="M216.05 330.06"/>
<path stroke="#000000" stroke-dashoffset="0.000" d="M112.25 330.06 L132.80 374.35"/>
<path stroke="#000000" stroke-dashoffset="4.661" d="M132.80 374.35 L132.90 345.72 L133.01 286.14"/>
<path stroke="#000000" stroke-dashoffset="4.540" d="M133.01 286.14 L133.11 345.72 L133.22 374.35 L153.35 384.78"/>
<circle cx="133.01" cy="286.14" r="1.042" fill="#000000" stroke="none"/>
<path stroke="#000000" stroke-dashoffset="5.012" d="M153.35 384.78 L153.46 368.92 L153.56 348.00 L153.66 319.37 L153.77 259.79"/>
<path stroke="#000000" stroke-dashoffset="8.543" d="M153.77 259.79 L153.87 319.37 L153.98 348.00 L154.08 368.92 L154.18 384.78 L162.07 377.05"/>
<path stroke="#000000" stroke-dashoffset="6.617" d="M162.07 377.05 L162.18 376.57 L162.28 376.07 L162.38 375.58 L162.49 375.08 L162.59 374.57 L162.70 374.06 L162.80 373.55 L162.90 373.03 L163.01 372.51 L163.11 371.98 L163.21 371.45 L163.32 370.91 L163.42 370.36 L163.53 369.82 L163.63 369.26 L163.73 368.70 L163.84 368.14 L163.94 367.57 L164.04 366.99 L164.15 366.41 L164.25 365.83 L164.36 365.23 L164.46 364.63 L164.56 364.03 L164.67 363.42 L164.77 362.80 L164.88 362.17 L164.98 361.54 L165.08 360.90 L165.19 360.26 L165.29 359.60 L165.39 358.94 L165.50 358.27 L165.60 357.60 L165.71 356.91 L165.81 356.22 L165.91 355.52 L166.02 354.81 L166.12 354.10 L166.22 353.37 L166.33 352.64 L166.43 351.90 L166.54 351.14 L166.64 350.38 L166.74 349.60 L166.85 348.82 L166.95 348.02 L167.06 347.22 L167.16 346.40 L167.26 345.57 L167.37 344.73 L167.47 343.87 L167.57 343.01 L167.68 342.13 L167.78 341.23 L167.89 340.33 L167.99 339.40 L168.09 338.47 L168.20 337.52 L168.30 336.55 L168.40 335.57 L168.51 334.57 L168.61 333.55 L168.72 332.51 L168.82 331.46 L168.92 330.38 L169.03 329.29 L169.13 328.17 L169.23 327.04 L169.34 325.87 L169.44 324.69 L169.55 323.48 L169.65 322.24 L169.75 320.98 L169.86 319.69 L169.96 318.36 L170.07 317.01 L170.17 315.62 L170.27 314.19 L170.38 312.73 L170.48 311.22 L170.58 309.68 L170.69 308.08 L170.79 306.44 L170.90 304.75 L171.00 303.01 L171.10 301.20 L171.21 299.33 L171.31 297.40 L171.41 295.40 L171.52 293.32 L171.62 291.16 L171.73 288.91 L171.83 286.57 L171.93 284.13 L172.04 281.58 L172.14 278.93 L172.25 276.14 L172.35 273.23 L172.45 270.17 L172.56 266.95 L172.66 263.57 L172.76 259.99 L172.87 256.21 L172.97 252.20 L173.08 247.93 L173.18 243.36 L173.28 238.45 L173.39 233.15 L173.49 227.38 L173.59 221.05 L173.70 214.03 L173.80 206.13 L173.91 197.12 L174.01 186.58 L174.11 173.91 L174.22 158.06 L174.32 137.13 L174.43 108.50 L174.53 48.92"/>
<path stroke="#000000" stroke-dashoffset="4.154" d="M174.53 48.92 L174.63 108.50 L174.74 137.13 L174.84 158.06 L174.94 173.91 L175.05 186.58 L175.15 197.12 L175.26 206.13 L175.36 214.03 L175.46 221.05 L175.57 227.38 L175.67 233.15 L175.77 238.45 L175.88 243.36 L175.98 247.93 L176.09 252.20 L176.19 256.21 L176.29 259.99 L176.40 263.57 L176.50 266.95 L176.60 270.17 L176.71 273.23 L176.81 276.14 L176.92 278.93 L177.02 281.58 L177.12 284.13 L177.23 286.57 L177.33 288.91 L177.44 291.16 L177.54 293.32 L177.64 295.40 L177.75 297.40 L177.85 299.33 L177.95 301.20 L178.06 303.01 L178.16 304.75 L178.27 306.44 L178.37 308.08 L178.47 309.68 L178.58 311.22 L178.68 312.73 L178.78 314.19 L178.89 315.62 L178.99 317.01 L179.10 318.36 L179.20 319.69 L179.30 320.98 L179.41 322.24 L179.51 323.48 L179.62 324.69 L179.72 325.87 L179.82 327.04 L179.93 328.17 L180.03 329.29 L180.13 330.38 L180.24 331.46 L180.34 332.51 L180.45 333.55 L180.55 334.57 L180.65 335.57 L180.76 336.55 L180.86 337.52 L180.96 338.47 L181.07 339.40 L181.17 340.33 L181.28 341.23 L181.38 342.13 L181.48 343.01 L181.59 343.87 L181.69 344.73 L181.79 345.57 L181.90 346.40 L182.00 347.22 L182.11 348.02 L182.21 348.82 L182.31 349.60 L182.42 350.38 L182.52 351.14 L182.63 351.90 L182.73 352.64 L182.83 353.37 L182.94 354.10 L183.04 354.81 L183.14 355.52 L183.25 356.22 L183.35 356.91 L183.46 357.60 L183.56 358.27 L183.66 358.94 L183.77 359.60 L183.87 360.26 L183.97 360.90 L184.08 361.54 L184.18 362.17 L184.29 362.80 L184.39 363.42 L184.49 364.03 L184.60 364.63 L184.70 365.23 L184.81 365.83 L184.91 366.41 L185.01 366.99 L185.12 367.57 L185.22 368.14 L185.32 368.70 L185.43 369.26 L185.53 369.82 L185.64 370.36 L185.74 370.91 L185.84 371.45 L185.95 371.98 L186.05 372.51 L186.15 373.03 L186.26 373.55 L186.36 374.06 L186.47 374.57 L186.57 375.08 L186.67 375.58 L186.78 376.07 L186.88 376.57 L186.98 377.05 L194.87 384.78"/>
<circle cx="174.53" cy="48.92" r="1.042" fill="#000000" stroke="none"/>
<path stroke="#000000" stroke-dashoffset="0.322" d="M194.87 384.78 L194.98 368.92 L195.08 348.00 L195.19 319.37 L195.29 259.79"/>
<path stroke="#000000" stroke-dashoffset="3.854" d="M195.29 259.79 L195.39 319.37 L195.50 348.00 L195.60 368.92 L195.70 384.78 L215.84 374.35"/>
<circle cx="195.29" cy="259.79" r="1.042" fill="#000000" stroke="none"/>
<path stroke="#000000" stroke-dashoffset="9.496" d="M215.84 374.35 L215.95 345.72 L216.05 286.14"/>
<path stroke="#000000" stroke-dashoffset="9.375" d="M216.05 286.14 L216.15 345.72 L216.26 374.35 L218.75 370.91"/>
<path stroke="#000000" stroke-dashoffset="2.463" d="M218.75 370.91 L236.81 330.06"/>
<path stroke="#000000" stroke-dashoffset="2.959" d="M236.81 330.06"/>
</g>
<rect x="69.5" y="32.5" width="496.0" height="370.0" fill="none" stroke="#000" stroke-width="1.1111"/>
<g stroke="#000" stroke-width="1.1111" stroke-linecap="butt">
<line x1="81.5" y1="402.500" x2="81.5" y2="407.500"/>
<line x1="185.5" y1="402.500" x2="185.5" y2="407.500"/>
<line x1="289.5" y1="402.500" x2="289.5" y2="407.500"/>
<line x1="393.5" y1="402.500" x2="393.5" y2="407.500"/>
<line x1="496.5" y1="402.500" x2="496.5" y2="407.500"/>
<line x1="64.500" y1="386.5" x2="69.500" y2="386.5"/>
<line x1="64.500" y1="318.5" x2="69.500" y2="318.5"/>
<line x1="64.500" y1="251.5" x2="69.500" y2="251.5"/>
<line x1="64.500" y1="184.5" x2="69.500" y2="184.5"/>
<line x1="64.500" y1="116.5" x2="69.500" y2="116.5"/>
<line x1="64.500" y1="49.5" x2="69.500" y2="49.5"/>
</g>
<text x="81.40" y="422.95" text-anchor="middle" font-size="13.8889px">1547</text>
<text x="185.24" y="422.90" text-anchor="middle" font-size="13.8889px">1548</text>
<text x="288.08" y="422.98" text-anchor="middle" font-size="13.8889px">1549</text>
<text x="392.02" y="423.09" text-anchor="middle" font-size="13.8889px">1550</text>
<text x="496.01" y="422.91" text-anchor="middle" font-size="13.8889px">1551</text>
<text x="58.36" y="391.04" text-anchor="end" font-size="13.8889px">−<tspan dx="-1">50</tspan></text>
<text x="58.39" y="324.10" text-anchor="end" font-size="13.8889px">−<tspan dx="-1">40</tspan></text>
<text x="58.42" y="256.88" text-anchor="end" font-size="13.8889px">−<tspan dx="-1">30</tspan></text>
<text x="58.36" y="188.93" text-anchor="end" font-size="13.8889px">−<tspan dx="-1">20</tspan></text>
<text x="58.42" y="121.97" text-anchor="end" font-size="13.8889px">−<tspan dx="-1">10</tspan></text>
<text x="59.71" y="55.05" text-anchor="end" font-size="13.8889px">0</text>
<text x="317.14" y="441.95" text-anchor="middle" font-size="13.8889px" stroke="#000" stroke-width="0.08">Wavelength (nm)</text>
<text transform="translate(20.96 217.95) rotate(-90)" text-anchor="middle" font-size="13.8889px">Power (dBm)</text>
<text x="316.38" y="23.59" text-anchor="middle" font-size="16.6667px" stroke="#000" stroke-width="0.20">Combined Demux Spectrum</text>
<rect x="596.500" y="39.500" width="90.000" height="88.000" rx="2.78" ry="2.78" fill="#ffffff" fill-opacity="0.8" stroke="#cccccc" stroke-opacity="0.8" stroke-width="1.3889"/>
<g fill="none" stroke-width="2.0833" stroke-dasharray="7.7083 3.3333">
<path stroke="#0000ff" d="M602 51.0 H630"/>
<path stroke="#008000" d="M602 72.0 H630"/>
<path stroke="#ff0000" d="M602 93.0 H630"/>
<path stroke="#000000" d="M602 114.0 H630"/>
</g>
<text x="640.38" y="56.11" text-anchor="start" font-size="13.8889px">BCOU</text>
<text x="640.00" y="76.94" text-anchor="start" font-size="13.8889px">C67E</text>
<text x="640.09" y="97.98" text-anchor="start" font-size="13.8889px">D5F3</text>
<text x="640.99" y="118.98" text-anchor="start" font-size="13.8889px">S50U</text>
</svg></body></html>
